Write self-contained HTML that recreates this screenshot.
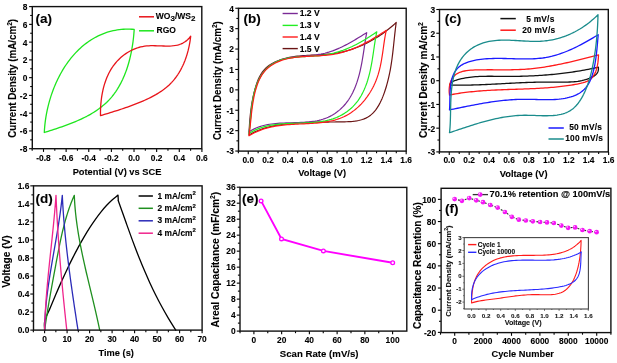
<!DOCTYPE html><html><head><meta charset="utf-8"><style>html,body{margin:0;padding:0;background:#fff;overflow:hidden}svg{display:block;will-change:transform;filter:blur(0.25px)}text{font-family:"Liberation Sans", sans-serif;stroke:currentColor;stroke-width:0.1px}</style></head><body>
<svg width="617" height="363" viewBox="0 0 617 363">
<rect width="617" height="363" fill="#fff"/>
<line x1="43.5" y1="148.7" x2="43.5" y2="151.9" stroke="#000" stroke-width="1.1"/>
<line x1="66.13" y1="148.7" x2="66.13" y2="151.9" stroke="#000" stroke-width="1.1"/>
<line x1="88.76" y1="148.7" x2="88.76" y2="151.9" stroke="#000" stroke-width="1.1"/>
<line x1="111.39" y1="148.7" x2="111.39" y2="151.9" stroke="#000" stroke-width="1.1"/>
<line x1="134.02" y1="148.7" x2="134.02" y2="151.9" stroke="#000" stroke-width="1.1"/>
<line x1="156.65" y1="148.7" x2="156.65" y2="151.9" stroke="#000" stroke-width="1.1"/>
<line x1="179.28" y1="148.7" x2="179.28" y2="151.9" stroke="#000" stroke-width="1.1"/>
<line x1="201.91" y1="148.7" x2="201.91" y2="151.9" stroke="#000" stroke-width="1.1"/>
<line x1="54.81" y1="148.7" x2="54.81" y2="150.8" stroke="#000" stroke-width="1.1"/>
<line x1="77.44" y1="148.7" x2="77.44" y2="150.8" stroke="#000" stroke-width="1.1"/>
<line x1="100.07" y1="148.7" x2="100.07" y2="150.8" stroke="#000" stroke-width="1.1"/>
<line x1="122.7" y1="148.7" x2="122.7" y2="150.8" stroke="#000" stroke-width="1.1"/>
<line x1="145.33" y1="148.7" x2="145.33" y2="150.8" stroke="#000" stroke-width="1.1"/>
<line x1="167.96" y1="148.7" x2="167.96" y2="150.8" stroke="#000" stroke-width="1.1"/>
<line x1="190.6" y1="148.7" x2="190.6" y2="150.8" stroke="#000" stroke-width="1.1"/>
<line x1="32.19" y1="148.7" x2="32.19" y2="150.8" stroke="#000" stroke-width="1.1"/>
<text x="43.5" y="160.6" font-size="8.4" text-anchor="middle" font-weight="bold" fill="#000" >-0.8</text>
<text x="66.13" y="160.6" font-size="8.4" text-anchor="middle" font-weight="bold" fill="#000" >-0.6</text>
<text x="88.76" y="160.6" font-size="8.4" text-anchor="middle" font-weight="bold" fill="#000" >-0.4</text>
<text x="111.39" y="160.6" font-size="8.4" text-anchor="middle" font-weight="bold" fill="#000" >-0.2</text>
<text x="134.02" y="160.6" font-size="8.4" text-anchor="middle" font-weight="bold" fill="#000" >0.0</text>
<text x="156.65" y="160.6" font-size="8.4" text-anchor="middle" font-weight="bold" fill="#000" >0.2</text>
<text x="179.28" y="160.6" font-size="8.4" text-anchor="middle" font-weight="bold" fill="#000" >0.4</text>
<text x="201.91" y="160.6" font-size="8.4" text-anchor="middle" font-weight="bold" fill="#000" >0.6</text>
<line x1="29.1" y1="6.6" x2="32.3" y2="6.6" stroke="#000" stroke-width="1.1"/>
<line x1="29.1" y1="24.36" x2="32.3" y2="24.36" stroke="#000" stroke-width="1.1"/>
<line x1="29.1" y1="42.13" x2="32.3" y2="42.13" stroke="#000" stroke-width="1.1"/>
<line x1="29.1" y1="59.89" x2="32.3" y2="59.89" stroke="#000" stroke-width="1.1"/>
<line x1="29.1" y1="77.65" x2="32.3" y2="77.65" stroke="#000" stroke-width="1.1"/>
<line x1="29.1" y1="95.41" x2="32.3" y2="95.41" stroke="#000" stroke-width="1.1"/>
<line x1="29.1" y1="113.17" x2="32.3" y2="113.17" stroke="#000" stroke-width="1.1"/>
<line x1="29.1" y1="130.94" x2="32.3" y2="130.94" stroke="#000" stroke-width="1.1"/>
<line x1="29.1" y1="148.7" x2="32.3" y2="148.7" stroke="#000" stroke-width="1.1"/>
<line x1="30.2" y1="15.48" x2="32.3" y2="15.48" stroke="#000" stroke-width="1.1"/>
<line x1="30.2" y1="33.25" x2="32.3" y2="33.25" stroke="#000" stroke-width="1.1"/>
<line x1="30.2" y1="51.01" x2="32.3" y2="51.01" stroke="#000" stroke-width="1.1"/>
<line x1="30.2" y1="68.77" x2="32.3" y2="68.77" stroke="#000" stroke-width="1.1"/>
<line x1="30.2" y1="86.53" x2="32.3" y2="86.53" stroke="#000" stroke-width="1.1"/>
<line x1="30.2" y1="104.29" x2="32.3" y2="104.29" stroke="#000" stroke-width="1.1"/>
<line x1="30.2" y1="122.06" x2="32.3" y2="122.06" stroke="#000" stroke-width="1.1"/>
<line x1="30.2" y1="139.82" x2="32.3" y2="139.82" stroke="#000" stroke-width="1.1"/>
<text x="27.3" y="10" font-size="8.4" text-anchor="end" font-weight="bold" fill="#000" >8</text>
<text x="27.3" y="27.76" font-size="8.4" text-anchor="end" font-weight="bold" fill="#000" >6</text>
<text x="27.3" y="45.53" font-size="8.4" text-anchor="end" font-weight="bold" fill="#000" >4</text>
<text x="27.3" y="63.29" font-size="8.4" text-anchor="end" font-weight="bold" fill="#000" >2</text>
<text x="27.3" y="81.05" font-size="8.4" text-anchor="end" font-weight="bold" fill="#000" >0</text>
<text x="27.3" y="98.81" font-size="8.4" text-anchor="end" font-weight="bold" fill="#000" >-2</text>
<text x="27.3" y="116.57" font-size="8.4" text-anchor="end" font-weight="bold" fill="#000" >-4</text>
<text x="27.3" y="134.34" font-size="8.4" text-anchor="end" font-weight="bold" fill="#000" >-6</text>
<text x="27.3" y="152.1" font-size="8.4" text-anchor="end" font-weight="bold" fill="#000" >-8</text>
<path d="M134.2,29.4 L134.06,31.4 133.9,33.42 133.72,35.45 133.51,37.48 133.28,39.52 133.03,41.57 132.75,43.61 132.44,45.67 132.1,47.72 131.74,49.77 131.35,51.82 130.93,53.87 130.49,55.91 130.01,57.94 129.5,59.97 128.96,61.99 128.39,63.99 127.79,65.99 127.15,67.97 126.48,69.93 125.78,71.88 125.04,73.81 124.27,75.72 123.46,77.61 122.62,79.48 121.73,81.32 120.81,83.14 119.85,84.93 118.86,86.69 117.82,88.42 116.74,90.12 115.62,91.79 114.47,93.42 113.26,95.02 112.02,96.58 110.73,98.1 109.4,99.58 108.03,101.02 106.61,102.42 105.15,103.78 103.64,105.1 102.1,106.37 100.52,107.61 98.91,108.82 97.26,109.98 95.58,111.12 93.87,112.21 92.13,113.28 90.37,114.32 88.57,115.32 86.76,116.3 84.92,117.24 83.06,118.16 81.19,119.06 79.3,119.93 77.39,120.77 75.47,121.59 73.53,122.39 71.59,123.17 69.64,123.93 67.68,124.67 65.72,125.39 63.75,126.1 61.79,126.79 59.82,127.47 57.85,128.13 55.89,128.79 53.94,129.43 51.99,130.06 50.05,130.68 48.12,131.29 46.2,131.9 44.3,132.5 L44.3,132.5 L44.41,130.55 44.54,128.58 44.71,126.61 44.9,124.63 45.13,122.64 45.38,120.65 45.67,118.65 45.98,116.65 46.33,114.64 46.71,112.63 47.11,110.63 47.55,108.62 48.02,106.61 48.52,104.61 49.04,102.61 49.6,100.61 50.19,98.62 50.81,96.64 51.46,94.67 52.14,92.7 52.85,90.74 53.58,88.8 54.35,86.87 55.15,84.95 55.98,83.04 56.84,81.15 57.73,79.28 58.65,77.42 59.6,75.58 60.58,73.76 61.59,71.96 62.63,70.19 63.7,68.43 64.79,66.7 65.92,65 67.08,63.32 68.27,61.67 69.49,60.04 70.74,58.45 72.02,56.88 73.33,55.35 74.66,53.85 76.03,52.38 77.43,50.94 78.86,49.55 80.31,48.18 81.8,46.86 83.31,45.57 84.85,44.33 86.42,43.12 88.02,41.96 89.64,40.84 91.3,39.76 92.98,38.73 94.68,37.75 96.42,36.81 98.18,35.92 99.97,35.08 101.78,34.29 103.62,33.55 105.49,32.87 107.38,32.24 109.3,31.66 111.24,31.14 113.2,30.67 115.2,30.27 117.21,29.92 119.25,29.63 121.32,29.41 123.41,29.25 125.52,29.15 127.66,29.11 129.81,29.14 132,29.24 134.2,29.4" fill="none" stroke="#1ee61e" stroke-width="1.3" stroke-linejoin="round" stroke-linecap="round"/>
<path d="M100.5,115.7 L100.48,113.73 100.49,111.75 100.53,109.74 100.61,107.71 100.73,105.67 100.88,103.63 101.08,101.57 101.31,99.51 101.59,97.44 101.91,95.38 102.27,93.32 102.68,91.27 103.14,89.22 103.65,87.19 104.21,85.18 104.82,83.18 105.49,81.2 106.21,79.25 106.98,77.32 107.81,75.43 108.7,73.56 109.66,71.73 110.67,69.94 111.75,68.2 112.89,66.49 114.1,64.84 115.37,63.23 116.7,61.67 118.09,60.17 119.54,58.73 121.04,57.35 122.6,56.04 124.21,54.79 125.86,53.61 127.57,52.5 129.31,51.46 131.1,50.5 132.94,49.63 134.8,48.83 136.71,48.12 138.65,47.5 140.62,46.97 142.62,46.53 144.65,46.19 146.7,45.95 148.77,45.8 150.86,45.72 152.97,45.7 155.08,45.73 157.19,45.79 159.31,45.86 161.42,45.95 163.51,46.02 165.6,46.06 167.66,46.07 169.7,46.03 171.72,45.91 173.69,45.72 175.64,45.43 177.54,45.03 179.39,44.51 181.2,43.85 182.94,43.04 184.63,42.06 186.26,40.9 187.81,39.55 189.3,37.99 190.7,36.2 L190.7,36.2 L190.45,38.24 190.17,40.28 189.84,42.32 189.48,44.35 189.08,46.37 188.63,48.38 188.15,50.38 187.62,52.37 187.06,54.34 186.45,56.29 185.79,58.23 185.1,60.15 184.35,62.04 183.57,63.91 182.73,65.75 181.85,67.56 180.93,69.35 179.95,71.1 178.93,72.82 177.85,74.51 176.73,76.15 175.56,77.76 174.33,79.33 173.05,80.86 171.73,82.34 170.34,83.77 168.91,85.16 167.42,86.5 165.88,87.79 164.3,89.04 162.67,90.25 161.01,91.41 159.3,92.53 157.56,93.62 155.8,94.67 154,95.68 152.18,96.66 150.33,97.61 148.47,98.52 146.6,99.41 144.71,100.27 142.81,101.11 140.9,101.92 138.99,102.7 137.08,103.47 135.17,104.22 133.25,104.95 131.34,105.66 129.42,106.35 127.5,107.03 125.58,107.7 123.66,108.35 121.74,109 119.82,109.63 117.89,110.26 115.97,110.87 114.04,111.48 112.11,112.09 110.18,112.69 108.24,113.29 106.31,113.89 104.38,114.49 102.44,115.1 100.5,115.7" fill="none" stroke="#e8141a" stroke-width="1.3" stroke-linejoin="round" stroke-linecap="round"/>
<rect x="32.3" y="6.6" width="169.5" height="142.1" fill="none" stroke="#111" stroke-width="1.4"/>
<text x="35.5" y="22.9" font-size="13.5" text-anchor="start" font-weight="bold" fill="#000" >(a)</text>
<line x1="139" y1="16.8" x2="154" y2="16.8" stroke="#e8141a" stroke-width="1.5"/>
<line x1="139" y1="30.8" x2="154" y2="30.8" stroke="#1ee61e" stroke-width="1.5"/>
<text x="155.8" y="18.7" font-size="8.5" text-anchor="start" font-weight="bold" fill="#000" >WO<tspan font-size="8" dy="2.7">3</tspan><tspan dy="-2.7">/WS</tspan><tspan font-size="8" dy="2.7">2</tspan></text>
<text x="156.5" y="33" font-size="8.5" text-anchor="start" font-weight="bold" fill="#000" >RGO</text>
<text x="0" y="0" font-size="9.3" text-anchor="middle" font-weight="bold" fill="#000" transform="translate(117 175.3) scale(1 1.02)" >Potential (V) vs SCE</text>
<text x="0" y="0" font-size="9.8" text-anchor="middle" font-weight="bold" fill="#000" transform="translate(16.3 78.4) rotate(-90) scale(1 1.15)" >Current Density (mA/cm<tspan font-size="6.5" dy="-3.5">2</tspan><tspan dy="3.5">)</tspan></text>
<line x1="248.25" y1="151.1" x2="248.25" y2="154.3" stroke="#000" stroke-width="1.1"/>
<line x1="267.99" y1="151.1" x2="267.99" y2="154.3" stroke="#000" stroke-width="1.1"/>
<line x1="287.73" y1="151.1" x2="287.73" y2="154.3" stroke="#000" stroke-width="1.1"/>
<line x1="307.47" y1="151.1" x2="307.47" y2="154.3" stroke="#000" stroke-width="1.1"/>
<line x1="327.21" y1="151.1" x2="327.21" y2="154.3" stroke="#000" stroke-width="1.1"/>
<line x1="346.95" y1="151.1" x2="346.95" y2="154.3" stroke="#000" stroke-width="1.1"/>
<line x1="366.69" y1="151.1" x2="366.69" y2="154.3" stroke="#000" stroke-width="1.1"/>
<line x1="386.43" y1="151.1" x2="386.43" y2="154.3" stroke="#000" stroke-width="1.1"/>
<line x1="406.17" y1="151.1" x2="406.17" y2="154.3" stroke="#000" stroke-width="1.1"/>
<line x1="258.12" y1="151.1" x2="258.12" y2="153.2" stroke="#000" stroke-width="1.1"/>
<line x1="277.86" y1="151.1" x2="277.86" y2="153.2" stroke="#000" stroke-width="1.1"/>
<line x1="297.6" y1="151.1" x2="297.6" y2="153.2" stroke="#000" stroke-width="1.1"/>
<line x1="317.34" y1="151.1" x2="317.34" y2="153.2" stroke="#000" stroke-width="1.1"/>
<line x1="337.08" y1="151.1" x2="337.08" y2="153.2" stroke="#000" stroke-width="1.1"/>
<line x1="356.82" y1="151.1" x2="356.82" y2="153.2" stroke="#000" stroke-width="1.1"/>
<line x1="376.56" y1="151.1" x2="376.56" y2="153.2" stroke="#000" stroke-width="1.1"/>
<line x1="396.3" y1="151.1" x2="396.3" y2="153.2" stroke="#000" stroke-width="1.1"/>
<line x1="238.38" y1="151.1" x2="238.38" y2="153.2" stroke="#000" stroke-width="1.1"/>
<text x="248.25" y="162.5" font-size="8.4" text-anchor="middle" font-weight="bold" fill="#000" >0.0</text>
<text x="267.99" y="162.5" font-size="8.4" text-anchor="middle" font-weight="bold" fill="#000" >0.2</text>
<text x="287.73" y="162.5" font-size="8.4" text-anchor="middle" font-weight="bold" fill="#000" >0.4</text>
<text x="307.47" y="162.5" font-size="8.4" text-anchor="middle" font-weight="bold" fill="#000" >0.6</text>
<text x="327.21" y="162.5" font-size="8.4" text-anchor="middle" font-weight="bold" fill="#000" >0.8</text>
<text x="346.95" y="162.5" font-size="8.4" text-anchor="middle" font-weight="bold" fill="#000" >1.0</text>
<text x="366.69" y="162.5" font-size="8.4" text-anchor="middle" font-weight="bold" fill="#000" >1.2</text>
<text x="386.43" y="162.5" font-size="8.4" text-anchor="middle" font-weight="bold" fill="#000" >1.4</text>
<text x="406.17" y="162.5" font-size="8.4" text-anchor="middle" font-weight="bold" fill="#000" >1.6</text>
<line x1="235.3" y1="8.25" x2="238.5" y2="8.25" stroke="#000" stroke-width="1.1"/>
<line x1="235.3" y1="28.65" x2="238.5" y2="28.65" stroke="#000" stroke-width="1.1"/>
<line x1="235.3" y1="49.05" x2="238.5" y2="49.05" stroke="#000" stroke-width="1.1"/>
<line x1="235.3" y1="69.45" x2="238.5" y2="69.45" stroke="#000" stroke-width="1.1"/>
<line x1="235.3" y1="89.85" x2="238.5" y2="89.85" stroke="#000" stroke-width="1.1"/>
<line x1="235.3" y1="110.25" x2="238.5" y2="110.25" stroke="#000" stroke-width="1.1"/>
<line x1="235.3" y1="130.65" x2="238.5" y2="130.65" stroke="#000" stroke-width="1.1"/>
<line x1="235.3" y1="151.05" x2="238.5" y2="151.05" stroke="#000" stroke-width="1.1"/>
<line x1="236.4" y1="18.45" x2="238.5" y2="18.45" stroke="#000" stroke-width="1.1"/>
<line x1="236.4" y1="38.85" x2="238.5" y2="38.85" stroke="#000" stroke-width="1.1"/>
<line x1="236.4" y1="59.25" x2="238.5" y2="59.25" stroke="#000" stroke-width="1.1"/>
<line x1="236.4" y1="79.65" x2="238.5" y2="79.65" stroke="#000" stroke-width="1.1"/>
<line x1="236.4" y1="100.05" x2="238.5" y2="100.05" stroke="#000" stroke-width="1.1"/>
<line x1="236.4" y1="120.45" x2="238.5" y2="120.45" stroke="#000" stroke-width="1.1"/>
<line x1="236.4" y1="140.85" x2="238.5" y2="140.85" stroke="#000" stroke-width="1.1"/>
<text x="233.9" y="11.65" font-size="8.4" text-anchor="end" font-weight="bold" fill="#000" >4</text>
<text x="233.9" y="32.05" font-size="8.4" text-anchor="end" font-weight="bold" fill="#000" >3</text>
<text x="233.9" y="52.45" font-size="8.4" text-anchor="end" font-weight="bold" fill="#000" >2</text>
<text x="233.9" y="72.85" font-size="8.4" text-anchor="end" font-weight="bold" fill="#000" >1</text>
<text x="233.9" y="93.25" font-size="8.4" text-anchor="end" font-weight="bold" fill="#000" >0</text>
<text x="233.9" y="113.65" font-size="8.4" text-anchor="end" font-weight="bold" fill="#000" >-1</text>
<text x="233.9" y="134.05" font-size="8.4" text-anchor="end" font-weight="bold" fill="#000" >-2</text>
<text x="233.9" y="154.45" font-size="8.4" text-anchor="end" font-weight="bold" fill="#000" >-3</text>
<path d="M396.2,22.5 L395.92,24.61 395.66,26.7 395.4,28.78 395.16,30.85 394.93,32.9 394.7,34.94 394.48,36.96 394.27,38.98 394.05,40.99 393.84,42.99 393.63,44.98 393.42,46.96 393.2,48.94 392.98,50.91 392.75,52.88 392.51,54.84 392.27,56.8 392.01,58.76 391.74,60.72 391.45,62.68 391.15,64.64 390.83,66.6 390.49,68.56 390.13,70.52 389.75,72.49 389.35,74.47 388.92,76.45 388.46,78.44 387.97,80.43 387.46,82.43 386.91,84.44 386.33,86.47 385.71,88.5 385.06,90.54 384.36,92.58 383.63,94.62 382.85,96.64 382.03,98.63 381.15,100.59 380.23,102.5 379.24,104.36 378.21,106.16 377.11,107.89 375.95,109.53 374.72,111.09 373.43,112.56 372.07,113.91 370.63,115.15 369.12,116.26 367.54,117.25 365.88,118.11 364.15,118.85 362.37,119.48 360.53,120.02 358.64,120.47 356.71,120.83 354.74,121.12 352.74,121.35 350.71,121.53 348.66,121.66 346.6,121.75 344.53,121.82 342.45,121.87 340.38,121.9 338.31,121.93 336.25,121.96 334.2,121.98 332.14,122 330.1,122.01 328.05,122.03 326.01,122.05 323.97,122.06 321.94,122.08 319.91,122.11 317.88,122.14 315.86,122.17 313.84,122.21 311.82,122.26 309.8,122.31 307.79,122.38 305.77,122.45 303.76,122.54 301.75,122.64 299.74,122.75 297.73,122.87 295.72,123.02 293.71,123.17 291.7,123.35 289.69,123.54 287.68,123.75 285.67,123.99 283.66,124.24 281.64,124.52 279.63,124.82 277.62,125.14 275.61,125.5 273.61,125.88 271.61,126.31 269.63,126.77 267.66,127.26 265.7,127.8 263.75,128.39 261.83,129.02 259.92,129.71 258.03,130.44 256.17,131.23 254.34,132.08 252.53,132.99 250.75,133.96 249,135 L249,135 L249.07,133 249.16,131.01 249.25,129.01 249.36,127.01 249.48,125.01 249.61,123 249.76,121 249.93,118.99 250.11,116.99 250.31,114.98 250.53,112.97 250.77,110.96 251.03,108.96 251.32,106.95 251.62,104.94 251.96,102.93 252.31,100.92 252.7,98.91 253.11,96.9 253.56,94.9 254.03,92.89 254.53,90.88 255.07,88.88 255.64,86.87 256.25,84.89 256.92,82.92 257.64,80.98 258.42,79.09 259.27,77.25 260.2,75.46 261.21,73.75 262.32,72.12 263.52,70.57 264.83,69.12 266.23,67.76 267.72,66.5 269.29,65.33 270.93,64.24 272.63,63.24 274.38,62.32 276.18,61.47 278,60.7 279.85,59.99 281.72,59.36 283.61,58.79 285.52,58.27 287.45,57.81 289.39,57.4 291.34,57.04 293.31,56.73 295.29,56.45 297.29,56.21 299.29,55.99 301.31,55.81 303.33,55.65 305.36,55.51 307.39,55.39 309.44,55.28 311.48,55.18 313.53,55.08 315.58,54.98 317.63,54.88 319.69,54.77 321.74,54.65 323.78,54.52 325.83,54.36 327.87,54.19 329.91,53.98 331.94,53.75 333.96,53.48 335.97,53.17 337.98,52.83 339.97,52.44 341.96,52.01 343.93,51.55 345.89,51.05 347.85,50.51 349.79,49.93 351.71,49.32 353.63,48.67 355.53,47.98 357.42,47.26 359.29,46.51 361.15,45.73 363,44.91 364.83,44.06 366.65,43.17 368.45,42.26 370.23,41.31 372,40.34 373.74,39.33 375.48,38.3 377.19,37.24 378.89,36.15 380.56,35.03 382.22,33.89 383.86,32.72 385.47,31.53 387.07,30.31 388.65,29.06 390.2,27.8 391.74,26.51 393.25,25.19 394.73,23.86 396.2,22.5" fill="none" stroke="#6a1414" stroke-width="1.2" stroke-linejoin="round" stroke-linecap="round"/>
<path d="M366.7,32.7 L366.35,34.59 366.01,36.49 365.69,38.42 365.37,40.36 365.06,42.33 364.76,44.3 364.46,46.3 364.16,48.3 363.85,50.31 363.54,52.34 363.23,54.37 362.9,56.41 362.57,58.46 362.21,60.51 361.85,62.56 361.46,64.61 361.05,66.66 360.62,68.71 360.16,70.76 359.67,72.8 359.16,74.84 358.6,76.87 358.02,78.88 357.4,80.89 356.74,82.88 356.03,84.84 355.29,86.79 354.51,88.71 353.67,90.6 352.8,92.45 351.87,94.27 350.89,96.06 349.86,97.79 348.78,99.49 347.64,101.13 346.44,102.73 345.19,104.27 343.88,105.75 342.52,107.18 341.11,108.55 339.65,109.86 338.14,111.1 336.58,112.29 334.99,113.41 333.35,114.46 331.67,115.44 329.95,116.35 328.19,117.2 326.4,117.96 324.58,118.66 322.72,119.28 320.84,119.83 318.92,120.31 316.99,120.73 315.02,121.1 313.04,121.41 311.03,121.68 309.01,121.91 306.97,122.09 304.92,122.25 302.85,122.37 300.78,122.47 298.69,122.56 296.59,122.62 294.5,122.68 292.39,122.73 290.29,122.79 288.18,122.84 286.08,122.91 283.98,122.98 281.89,123.08 279.81,123.19 277.73,123.34 275.67,123.51 273.62,123.73 271.58,123.98 269.56,124.28 267.56,124.63 265.58,125.03 263.63,125.5 261.69,126.02 259.79,126.62 257.91,127.29 256.06,128.04 254.24,128.87 252.46,129.78 250.71,130.79 249,131.9 L249,131.9 L249.27,130 249.51,128.06 249.74,126.1 249.95,124.12 250.16,122.12 250.35,120.09 250.55,118.05 250.74,116 250.94,113.93 251.15,111.85 251.37,109.77 251.61,107.68 251.86,105.59 252.15,103.5 252.46,101.41 252.8,99.33 253.18,97.26 253.6,95.19 254.06,93.14 254.57,91.1 255.13,89.08 255.75,87.08 256.42,85.11 257.16,83.17 257.96,81.27 258.82,79.41 259.75,77.61 260.75,75.86 261.82,74.17 262.97,72.55 264.19,71.01 265.49,69.55 266.87,68.17 268.32,66.87 269.84,65.66 271.42,64.53 273.06,63.48 274.75,62.52 276.49,61.65 278.29,60.85 280.12,60.15 281.99,59.52 283.9,58.97 285.84,58.49 287.81,58.07 289.81,57.7 291.83,57.38 293.87,57.1 295.93,56.85 298.01,56.63 300.09,56.43 302.18,56.24 304.28,56.07 306.38,55.89 308.48,55.71 310.58,55.51 312.67,55.29 314.75,55.05 316.81,54.78 318.86,54.46 320.89,54.1 322.9,53.69 324.89,53.22 326.85,52.7 328.79,52.13 330.71,51.51 332.61,50.85 334.5,50.14 336.36,49.39 338.22,48.6 340.06,47.78 341.88,46.92 343.69,46.03 345.49,45.11 347.29,44.16 349.07,43.19 350.85,42.2 352.62,41.19 354.38,40.16 356.15,39.12 357.9,38.07 359.66,37 361.42,35.93 363.18,34.86 364.94,33.78 366.7,32.7" fill="none" stroke="#7a2a96" stroke-width="1.2" stroke-linejoin="round" stroke-linecap="round"/>
<path d="M376.8,31.8 L376.41,33.69 376.05,35.61 375.7,37.54 375.37,39.49 375.05,41.47 374.74,43.45 374.43,45.45 374.13,47.47 373.83,49.5 373.53,51.53 373.23,53.58 372.92,55.63 372.6,57.68 372.27,59.74 371.93,61.81 371.56,63.87 371.18,65.93 370.77,67.99 370.34,70.05 369.87,72.1 369.38,74.15 368.85,76.19 368.29,78.21 367.69,80.23 367.05,82.22 366.36,84.2 365.64,86.15 364.86,88.08 364.04,89.97 363.17,91.83 362.25,93.66 361.28,95.45 360.25,97.19 359.17,98.89 358.03,100.54 356.83,102.13 355.56,103.67 354.24,105.16 352.87,106.59 351.44,107.96 349.96,109.26 348.44,110.51 346.86,111.7 345.25,112.82 343.59,113.88 341.9,114.88 340.17,115.8 338.4,116.66 336.61,117.45 334.78,118.17 332.93,118.83 331.05,119.42 329.15,119.95 327.22,120.42 325.27,120.84 323.3,121.21 321.31,121.54 319.31,121.82 317.29,122.07 315.25,122.28 313.2,122.46 311.14,122.61 309.07,122.74 306.99,122.85 304.9,122.95 302.81,123.03 300.71,123.1 298.6,123.16 296.5,123.23 294.39,123.29 292.29,123.36 290.18,123.44 288.08,123.53 285.99,123.64 283.9,123.76 281.82,123.91 279.75,124.09 277.69,124.29 275.64,124.53 273.6,124.81 271.58,125.13 269.58,125.5 267.59,125.91 265.62,126.37 263.68,126.9 261.75,127.48 259.85,128.12 257.97,128.83 256.12,129.61 254.3,130.46 252.5,131.39 250.73,132.4 249,133.5 L249,133.5 L249.26,131.61 249.49,129.69 249.71,127.74 249.91,125.77 250.1,123.78 250.29,121.76 250.47,119.73 250.65,117.67 250.84,115.61 251.03,113.54 251.24,111.45 251.46,109.37 251.7,107.28 251.96,105.18 252.25,103.09 252.58,101.01 252.93,98.93 253.33,96.86 253.76,94.8 254.24,92.76 254.77,90.73 255.35,88.72 255.99,86.74 256.69,84.78 257.45,82.86 258.27,80.98 259.15,79.14 260.1,77.36 261.12,75.63 262.2,73.97 263.36,72.37 264.6,70.85 265.91,69.4 267.29,68.04 268.74,66.76 270.25,65.56 271.83,64.44 273.46,63.41 275.14,62.47 276.88,61.61 278.66,60.83 280.48,60.15 282.34,59.54 284.24,59.01 286.17,58.55 288.13,58.16 290.12,57.82 292.14,57.53 294.18,57.29 296.23,57.09 298.31,56.92 300.39,56.77 302.49,56.65 304.59,56.54 306.71,56.44 308.82,56.34 310.93,56.23 313.04,56.12 315.14,55.98 317.23,55.83 319.32,55.64 321.38,55.42 323.43,55.16 325.46,54.85 327.47,54.5 329.47,54.11 331.45,53.68 333.41,53.21 335.36,52.7 337.29,52.15 339.2,51.56 341.1,50.93 342.99,50.27 344.86,49.57 346.72,48.84 348.57,48.07 350.4,47.27 352.23,46.44 354.04,45.57 355.84,44.68 357.63,43.75 359.41,42.8 361.19,41.81 362.95,40.8 364.71,39.76 366.45,38.7 368.19,37.61 369.93,36.49 371.65,35.35 373.37,34.19 375.09,33.01 376.8,31.8" fill="none" stroke="#22ee22" stroke-width="1.2" stroke-linejoin="round" stroke-linecap="round"/>
<path d="M386.3,30.3 L385.9,32.18 385.52,34.08 385.17,36.01 384.84,37.96 384.52,39.93 384.22,41.92 383.92,43.92 383.63,45.94 383.35,47.97 383.06,50.01 382.77,52.05 382.47,54.1 382.15,56.16 381.82,58.21 381.48,60.26 381.1,62.31 380.7,64.36 380.28,66.4 379.81,68.42 379.31,70.44 378.77,72.44 378.19,74.43 377.55,76.39 376.87,78.34 376.14,80.27 375.36,82.17 374.53,84.05 373.66,85.9 372.73,87.73 371.77,89.52 370.76,91.28 369.7,93.02 368.6,94.71 367.46,96.37 366.28,97.99 365.05,99.58 363.78,101.12 362.47,102.62 361.13,104.08 359.74,105.49 358.31,106.85 356.85,108.16 355.35,109.43 353.81,110.64 352.24,111.8 350.63,112.9 348.98,113.94 347.31,114.93 345.59,115.85 343.85,116.72 342.07,117.52 340.26,118.25 338.43,118.92 336.56,119.54 334.67,120.09 332.75,120.59 330.8,121.04 328.84,121.45 326.85,121.8 324.85,122.12 322.83,122.41 320.79,122.65 318.74,122.87 316.67,123.06 314.6,123.23 312.51,123.37 310.42,123.5 308.33,123.61 306.22,123.72 304.12,123.81 302.01,123.9 299.91,123.99 297.81,124.08 295.71,124.18 293.61,124.29 291.53,124.41 289.45,124.54 287.38,124.69 285.33,124.87 283.29,125.07 281.26,125.3 279.25,125.56 277.26,125.85 275.28,126.18 273.31,126.55 271.36,126.95 269.43,127.4 267.51,127.9 265.6,128.44 263.7,129.03 261.82,129.68 259.96,130.37 258.1,131.12 256.26,131.93 254.43,132.81 252.61,133.74 250.8,134.74 249,135.8 L249,135.8 L249.27,133.83 249.52,131.85 249.76,129.86 249.98,127.87 250.2,125.87 250.41,123.86 250.62,121.84 250.82,119.82 251.03,117.8 251.24,115.78 251.46,113.75 251.7,111.72 251.94,109.68 252.2,107.65 252.49,105.62 252.79,103.59 253.12,101.56 253.48,99.53 253.87,97.51 254.29,95.49 254.75,93.47 255.25,91.46 255.79,89.46 256.38,87.46 257.02,85.48 257.72,83.53 258.48,81.62 259.3,79.74 260.19,77.92 261.16,76.15 262.22,74.46 263.35,72.83 264.58,71.3 265.9,69.85 267.31,68.49 268.8,67.23 270.37,66.04 272,64.95 273.68,63.93 275.42,63 277.2,62.15 279.01,61.37 280.86,60.67 282.73,60.04 284.62,59.48 286.53,58.98 288.47,58.53 290.42,58.15 292.4,57.81 294.38,57.51 296.39,57.25 298.41,57.03 300.44,56.84 302.48,56.68 304.52,56.54 306.58,56.42 308.64,56.31 310.71,56.21 312.78,56.11 314.85,56.01 316.92,55.91 318.99,55.79 321.06,55.67 323.12,55.52 325.18,55.35 327.23,55.16 329.27,54.93 331.31,54.66 333.33,54.36 335.33,54.01 337.33,53.61 339.3,53.16 341.27,52.67 343.22,52.13 345.15,51.55 347.08,50.93 348.99,50.27 350.88,49.58 352.77,48.84 354.64,48.08 356.5,47.28 358.34,46.45 360.17,45.59 361.99,44.7 363.8,43.78 365.6,42.85 367.38,41.89 369.16,40.9 370.92,39.9 372.67,38.88 374.41,37.85 376.14,36.8 377.86,35.74 379.57,34.67 381.27,33.59 382.95,32.5 384.63,31.4 386.3,30.3" fill="none" stroke="#ff1a1a" stroke-width="1.2" stroke-linejoin="round" stroke-linecap="round"/>
<rect x="238.5" y="8.3" width="167.7" height="142.8" fill="none" stroke="#111" stroke-width="1.4"/>
<text x="243.4" y="22.85" font-size="13.5" text-anchor="start" font-weight="bold" fill="#000" >(b)</text>
<line x1="282.6" y1="13.5" x2="297.8" y2="13.5" stroke="#7a2a96" stroke-width="1.4"/>
<text x="299.7" y="16.4" font-size="8.6" text-anchor="start" font-weight="bold" fill="#000" >1.2 V</text>
<line x1="282.6" y1="25.400000000000002" x2="297.8" y2="25.400000000000002" stroke="#22ee22" stroke-width="1.4"/>
<text x="299.7" y="28.3" font-size="8.6" text-anchor="start" font-weight="bold" fill="#000" >1.3 V</text>
<line x1="282.6" y1="37.0" x2="297.8" y2="37.0" stroke="#ff1a1a" stroke-width="1.4"/>
<text x="299.7" y="39.9" font-size="8.6" text-anchor="start" font-weight="bold" fill="#000" >1.4 V</text>
<line x1="282.6" y1="48.599999999999994" x2="297.8" y2="48.599999999999994" stroke="#6a1414" stroke-width="1.4"/>
<text x="299.7" y="51.5" font-size="8.6" text-anchor="start" font-weight="bold" fill="#000" >1.5 V</text>
<text x="0" y="0" font-size="9.3" text-anchor="middle" font-weight="bold" fill="#000" transform="translate(322.2 176.3) scale(1 1.02)" >Voltage (V)</text>
<text x="0" y="0" font-size="9.8" text-anchor="middle" font-weight="bold" fill="#000" transform="translate(220.6 80.6) rotate(-90) scale(1 1.15)" >Current Density (mA/cm<tspan font-size="6.5" dy="-3.5">2</tspan><tspan dy="3.5">)</tspan></text>
<line x1="449.25" y1="151.9" x2="449.25" y2="155.1" stroke="#000" stroke-width="1.1"/>
<line x1="469.17" y1="151.9" x2="469.17" y2="155.1" stroke="#000" stroke-width="1.1"/>
<line x1="489.09" y1="151.9" x2="489.09" y2="155.1" stroke="#000" stroke-width="1.1"/>
<line x1="509.01" y1="151.9" x2="509.01" y2="155.1" stroke="#000" stroke-width="1.1"/>
<line x1="528.93" y1="151.9" x2="528.93" y2="155.1" stroke="#000" stroke-width="1.1"/>
<line x1="548.85" y1="151.9" x2="548.85" y2="155.1" stroke="#000" stroke-width="1.1"/>
<line x1="568.77" y1="151.9" x2="568.77" y2="155.1" stroke="#000" stroke-width="1.1"/>
<line x1="588.69" y1="151.9" x2="588.69" y2="155.1" stroke="#000" stroke-width="1.1"/>
<line x1="608.61" y1="151.9" x2="608.61" y2="155.1" stroke="#000" stroke-width="1.1"/>
<line x1="459.21" y1="151.9" x2="459.21" y2="154" stroke="#000" stroke-width="1.1"/>
<line x1="479.13" y1="151.9" x2="479.13" y2="154" stroke="#000" stroke-width="1.1"/>
<line x1="499.05" y1="151.9" x2="499.05" y2="154" stroke="#000" stroke-width="1.1"/>
<line x1="518.97" y1="151.9" x2="518.97" y2="154" stroke="#000" stroke-width="1.1"/>
<line x1="538.89" y1="151.9" x2="538.89" y2="154" stroke="#000" stroke-width="1.1"/>
<line x1="558.81" y1="151.9" x2="558.81" y2="154" stroke="#000" stroke-width="1.1"/>
<line x1="578.73" y1="151.9" x2="578.73" y2="154" stroke="#000" stroke-width="1.1"/>
<line x1="598.65" y1="151.9" x2="598.65" y2="154" stroke="#000" stroke-width="1.1"/>
<line x1="439.29" y1="151.9" x2="439.29" y2="154" stroke="#000" stroke-width="1.1"/>
<text x="449.25" y="163.3" font-size="8.4" text-anchor="middle" font-weight="bold" fill="#000" >0.0</text>
<text x="469.17" y="163.3" font-size="8.4" text-anchor="middle" font-weight="bold" fill="#000" >0.2</text>
<text x="489.09" y="163.3" font-size="8.4" text-anchor="middle" font-weight="bold" fill="#000" >0.4</text>
<text x="509.01" y="163.3" font-size="8.4" text-anchor="middle" font-weight="bold" fill="#000" >0.6</text>
<text x="528.93" y="163.3" font-size="8.4" text-anchor="middle" font-weight="bold" fill="#000" >0.8</text>
<text x="548.85" y="163.3" font-size="8.4" text-anchor="middle" font-weight="bold" fill="#000" >1.0</text>
<text x="568.77" y="163.3" font-size="8.4" text-anchor="middle" font-weight="bold" fill="#000" >1.2</text>
<text x="588.69" y="163.3" font-size="8.4" text-anchor="middle" font-weight="bold" fill="#000" >1.4</text>
<text x="608.61" y="163.3" font-size="8.4" text-anchor="middle" font-weight="bold" fill="#000" >1.6</text>
<line x1="436.3" y1="9.51" x2="439.5" y2="9.51" stroke="#000" stroke-width="1.1"/>
<line x1="436.3" y1="33.24" x2="439.5" y2="33.24" stroke="#000" stroke-width="1.1"/>
<line x1="436.3" y1="56.97" x2="439.5" y2="56.97" stroke="#000" stroke-width="1.1"/>
<line x1="436.3" y1="80.7" x2="439.5" y2="80.7" stroke="#000" stroke-width="1.1"/>
<line x1="436.3" y1="104.43" x2="439.5" y2="104.43" stroke="#000" stroke-width="1.1"/>
<line x1="436.3" y1="128.16" x2="439.5" y2="128.16" stroke="#000" stroke-width="1.1"/>
<line x1="436.3" y1="151.89" x2="439.5" y2="151.89" stroke="#000" stroke-width="1.1"/>
<line x1="437.4" y1="21.38" x2="439.5" y2="21.38" stroke="#000" stroke-width="1.1"/>
<line x1="437.4" y1="45.11" x2="439.5" y2="45.11" stroke="#000" stroke-width="1.1"/>
<line x1="437.4" y1="68.84" x2="439.5" y2="68.84" stroke="#000" stroke-width="1.1"/>
<line x1="437.4" y1="92.56" x2="439.5" y2="92.56" stroke="#000" stroke-width="1.1"/>
<line x1="437.4" y1="116.3" x2="439.5" y2="116.3" stroke="#000" stroke-width="1.1"/>
<line x1="437.4" y1="140.03" x2="439.5" y2="140.03" stroke="#000" stroke-width="1.1"/>
<text x="435.1" y="12.91" font-size="8.4" text-anchor="end" font-weight="bold" fill="#000" >3</text>
<text x="435.1" y="36.64" font-size="8.4" text-anchor="end" font-weight="bold" fill="#000" >2</text>
<text x="435.1" y="60.37" font-size="8.4" text-anchor="end" font-weight="bold" fill="#000" >1</text>
<text x="435.1" y="84.1" font-size="8.4" text-anchor="end" font-weight="bold" fill="#000" >0</text>
<text x="435.1" y="107.83" font-size="8.4" text-anchor="end" font-weight="bold" fill="#000" >-1</text>
<text x="435.1" y="131.56" font-size="8.4" text-anchor="end" font-weight="bold" fill="#000" >-2</text>
<text x="435.1" y="155.29" font-size="8.4" text-anchor="end" font-weight="bold" fill="#000" >-3</text>
<path d="M449.7,85 L451.77,85.05 453.83,85.09 455.89,85.11 457.95,85.13 459.99,85.14 462.04,85.13 464.08,85.12 466.11,85.1 468.15,85.07 470.17,85.03 472.2,84.98 474.22,84.93 476.24,84.87 478.25,84.8 480.27,84.73 482.28,84.65 484.29,84.57 486.3,84.49 488.3,84.4 490.31,84.3 492.31,84.2 494.31,84.1 496.32,84 498.32,83.9 500.32,83.79 502.32,83.69 504.33,83.58 506.33,83.47 508.33,83.37 510.34,83.26 512.35,83.16 514.36,83.06 516.37,82.96 518.38,82.86 520.39,82.77 522.41,82.68 524.43,82.59 526.45,82.51 528.48,82.43 530.51,82.36 532.54,82.29 534.58,82.23 536.62,82.18 538.67,82.14 540.72,82.1 542.77,82.07 544.83,82.05 546.9,82.03 548.97,82.03 551.05,82.04 553.13,82.05 555.22,82.08 557.31,82.1 559.4,82.13 561.49,82.14 563.58,82.14 565.65,82.12 567.72,82.08 569.77,82 571.81,81.9 573.84,81.75 575.84,81.55 577.82,81.3 579.78,81 581.71,80.63 583.61,80.2 585.48,79.7 587.32,79.11 589.12,78.45 590.88,77.69 592.6,76.85 594.25,75.88 595.76,74.75 597.02,73.38 597.94,71.71 598.44,69.67 598.4,67.2 L598.4,67.2 L596.37,67.65 594.35,68.08 592.33,68.51 590.3,68.92 588.28,69.32 586.26,69.7 584.24,70.07 582.21,70.44 580.19,70.78 578.17,71.12 576.15,71.45 574.13,71.76 572.11,72.06 570.08,72.35 568.06,72.63 566.04,72.9 564.01,73.16 561.99,73.41 559.96,73.64 557.94,73.87 555.91,74.08 553.88,74.29 551.85,74.48 549.82,74.66 547.78,74.84 545.75,75 543.71,75.15 541.68,75.3 539.64,75.43 537.59,75.56 535.55,75.68 533.5,75.78 531.46,75.88 529.41,75.97 527.35,76.05 525.3,76.12 523.24,76.18 521.18,76.24 519.11,76.28 517.05,76.32 514.98,76.35 512.91,76.37 510.83,76.39 508.75,76.4 506.67,76.39 504.58,76.39 502.49,76.37 500.4,76.35 498.31,76.33 496.21,76.3 494.12,76.28 492.02,76.27 489.93,76.26 487.85,76.27 485.77,76.29 483.69,76.33 481.62,76.39 479.56,76.47 477.51,76.58 475.47,76.71 473.44,76.88 471.42,77.08 469.42,77.32 467.43,77.6 465.46,77.92 463.5,78.29 461.56,78.7 459.64,79.17 457.74,79.69 455.87,80.26 454.02,80.91 452.29,81.73 450.81,82.88 449.7,84.5" fill="none" stroke="#111" stroke-width="1.3" stroke-linejoin="round" stroke-linecap="round"/>
<path d="M449.5,95 L451.49,94.61 453.48,94.24 455.47,93.9 457.47,93.57 459.47,93.26 461.48,92.96 463.49,92.68 465.5,92.42 467.51,92.18 469.53,91.95 471.55,91.73 473.57,91.53 475.6,91.34 477.63,91.16 479.66,90.99 481.69,90.84 483.72,90.69 485.76,90.55 487.79,90.43 489.83,90.31 491.87,90.2 493.92,90.1 495.96,90 498,89.91 500.05,89.82 502.09,89.74 504.14,89.67 506.19,89.59 508.23,89.52 510.28,89.45 512.33,89.38 514.38,89.32 516.43,89.25 518.48,89.18 520.52,89.11 522.57,89.04 524.62,88.96 526.67,88.89 528.71,88.81 530.76,88.72 532.8,88.63 534.84,88.53 536.88,88.43 538.92,88.32 540.96,88.2 543,88.08 545.04,87.94 547.07,87.8 549.1,87.64 551.13,87.47 553.16,87.3 555.18,87.11 557.21,86.9 559.23,86.69 561.24,86.46 563.26,86.21 565.27,85.95 567.28,85.67 569.28,85.38 571.28,85.07 573.28,84.74 575.28,84.39 577.27,84.02 579.26,83.63 581.23,83.21 583.17,82.73 585.05,82.14 586.85,81.43 588.54,80.56 590.1,79.49 591.52,78.22 592.8,76.77 593.93,75.15 594.92,73.37 595.76,71.45 596.46,69.41 597.03,67.29 597.49,65.13 597.85,62.95 598.11,60.79 598.3,58.69 598.43,56.68 598.5,54.8 L598.5,54.8 L596.56,55.32 594.61,55.84 592.66,56.36 590.7,56.87 588.73,57.39 586.76,57.9 584.78,58.41 582.8,58.91 580.81,59.41 578.82,59.91 576.83,60.4 574.83,60.88 572.82,61.36 570.82,61.83 568.81,62.29 566.8,62.75 564.78,63.19 562.76,63.63 560.74,64.05 558.72,64.47 556.7,64.87 554.67,65.26 552.64,65.64 550.62,66 548.59,66.36 546.56,66.69 544.53,67.02 542.51,67.32 540.48,67.61 538.45,67.89 536.43,68.14 534.4,68.38 532.38,68.6 530.36,68.8 528.34,68.99 526.32,69.15 524.31,69.29 522.3,69.41 520.29,69.51 518.28,69.59 516.27,69.66 514.26,69.71 512.25,69.75 510.24,69.78 508.22,69.8 506.21,69.81 504.18,69.81 502.16,69.81 500.12,69.8 498.08,69.79 496.04,69.79 493.98,69.78 491.92,69.77 489.85,69.77 487.77,69.77 485.67,69.78 483.57,69.79 481.45,69.82 479.33,69.86 477.18,69.91 475.03,69.97 472.87,70.06 470.72,70.2 468.61,70.39 466.53,70.65 464.51,71 462.56,71.45 460.69,72.01 458.93,72.71 457.28,73.55 455.76,74.56 454.39,75.74 453.17,77.11 452.11,78.64 451.21,80.34 450.48,82.17 449.9,84.11 449.49,86.16 449.25,88.29 449.16,90.49 449.25,92.73 449.5,95" fill="none" stroke="#ff1a1a" stroke-width="1.3" stroke-linejoin="round" stroke-linecap="round"/>
<path d="M449.5,109.9 L451.51,109.48 453.52,109.07 455.53,108.65 457.53,108.24 459.53,107.83 461.53,107.42 463.53,107.01 465.53,106.6 467.52,106.2 469.52,105.81 471.51,105.42 473.51,105.04 475.5,104.66 477.5,104.29 479.49,103.93 481.49,103.57 483.48,103.23 485.48,102.9 487.48,102.57 489.48,102.26 491.48,101.96 493.48,101.67 495.49,101.4 497.49,101.14 499.5,100.89 501.52,100.66 503.53,100.44 505.55,100.24 507.58,100.06 509.6,99.9 511.63,99.75 513.67,99.62 515.7,99.51 517.75,99.43 519.8,99.36 521.85,99.31 523.91,99.29 525.97,99.29 528.04,99.31 530.11,99.34 532.19,99.39 534.27,99.45 536.35,99.51 538.42,99.57 540.5,99.62 542.58,99.67 544.65,99.7 546.71,99.71 548.77,99.7 550.83,99.67 552.88,99.6 554.91,99.5 556.94,99.36 558.96,99.18 560.96,98.95 562.96,98.67 564.93,98.32 566.9,97.92 568.84,97.46 570.77,96.92 572.68,96.31 574.55,95.61 576.37,94.83 578.13,93.94 579.82,92.95 581.42,91.84 582.93,90.62 584.35,89.27 585.66,87.82 586.88,86.26 588,84.62 589.03,82.89 589.96,81.08 590.8,79.21 591.55,77.29 592.23,75.31 592.84,73.3 593.39,71.26 593.88,69.21 594.33,67.14 594.75,65.07 595.12,63.01 595.46,60.94 595.78,58.88 596.06,56.82 596.32,54.77 596.56,52.72 596.78,50.68 596.99,48.64 597.18,46.62 597.36,44.6 597.53,42.6 597.7,40.6 597.86,38.62 598.03,36.65 598.2,34.7 L598.2,34.7 L596.49,35.75 594.76,36.79 593.02,37.83 591.28,38.86 589.51,39.89 587.74,40.91 585.96,41.91 584.16,42.91 582.36,43.88 580.54,44.85 578.72,45.79 576.88,46.72 575.03,47.62 573.17,48.5 571.31,49.35 569.43,50.18 567.54,50.98 565.65,51.75 563.74,52.49 561.83,53.2 559.91,53.87 557.98,54.5 556.04,55.09 554.09,55.64 552.14,56.16 550.18,56.62 548.21,57.04 546.23,57.42 544.25,57.74 542.26,58.02 540.26,58.26 538.26,58.46 536.25,58.62 534.23,58.75 532.21,58.84 530.19,58.91 528.16,58.95 526.12,58.97 524.08,58.96 522.04,58.95 519.99,58.91 517.94,58.87 515.89,58.82 513.83,58.76 511.77,58.7 509.71,58.63 507.64,58.58 505.58,58.52 503.51,58.48 501.44,58.44 499.37,58.42 497.3,58.42 495.22,58.44 493.15,58.48 491.08,58.55 489.01,58.64 486.94,58.77 484.86,58.93 482.79,59.12 480.73,59.36 478.66,59.64 476.6,59.96 474.55,60.34 472.53,60.78 470.55,61.29 468.61,61.87 466.73,62.54 464.92,63.29 463.19,64.13 461.55,65.08 460.01,66.13 458.57,67.31 457.26,68.6 456.07,70.01 455,71.54 454.06,73.18 453.24,74.93 452.54,76.78 451.94,78.71 451.45,80.72 451.04,82.79 450.71,84.91 450.45,87.07 450.25,89.25 450.11,91.45 450,93.65 449.92,95.84 449.87,98.01 449.83,100.14 449.8,102.23 449.76,104.26 449.7,106.23 449.62,108.11 449.5,109.9" fill="none" stroke="#1a1aff" stroke-width="1.3" stroke-linejoin="round" stroke-linecap="round"/>
<path d="M449.5,132.7 L451.43,132.05 453.36,131.4 455.29,130.75 457.22,130.11 459.15,129.46 461.07,128.81 463,128.17 464.92,127.53 466.84,126.89 468.77,126.27 470.69,125.65 472.62,125.03 474.54,124.43 476.47,123.84 478.4,123.25 480.33,122.68 482.27,122.13 484.21,121.58 486.15,121.06 488.09,120.55 490.04,120.05 491.99,119.58 493.95,119.12 495.91,118.68 497.88,118.27 499.85,117.87 501.83,117.51 503.82,117.16 505.81,116.84 507.81,116.55 509.81,116.28 511.83,116.04 513.85,115.83 515.88,115.66 517.91,115.51 519.96,115.39 522.02,115.31 524.08,115.27 526.16,115.26 528.24,115.28 530.33,115.32 532.43,115.38 534.53,115.46 536.62,115.53 538.72,115.61 540.8,115.68 542.89,115.73 544.96,115.75 547.02,115.75 549.07,115.71 551.1,115.63 553.12,115.5 555.11,115.31 557.08,115.05 559.03,114.73 560.95,114.32 562.84,113.84 564.69,113.26 566.49,112.57 568.22,111.78 569.89,110.86 571.48,109.81 573,108.65 574.44,107.38 575.81,106.01 577.12,104.54 578.36,102.99 579.53,101.37 580.65,99.68 581.71,97.93 582.71,96.13 583.65,94.28 584.55,92.4 585.4,90.5 586.2,88.57 586.95,86.64 587.67,84.7 588.34,82.75 588.98,80.79 589.58,78.82 590.14,76.85 590.67,74.87 591.18,72.88 591.65,70.9 592.1,68.91 592.52,66.91 592.92,64.92 593.3,62.93 593.66,60.93 594,58.94 594.33,56.95 594.64,54.96 594.94,52.97 595.22,50.98 595.49,48.99 595.74,47 595.98,45.01 596.2,43.02 596.41,41.02 596.61,39.02 596.79,37.02 596.97,35.02 597.12,33.01 597.27,31 597.4,28.98 597.52,26.96 597.63,24.93 597.73,22.9 597.81,20.86 597.89,18.82 597.95,16.76 598,14.7 L598,14.7 L596.5,16.17 594.98,17.6 593.44,19 591.87,20.36 590.28,21.68 588.67,22.96 587.03,24.2 585.38,25.4 583.7,26.56 582,27.68 580.29,28.76 578.55,29.8 576.79,30.8 575.02,31.75 573.23,32.66 571.42,33.53 569.59,34.36 567.75,35.14 565.89,35.88 564.01,36.57 562.12,37.22 560.21,37.82 558.29,38.38 556.36,38.89 554.41,39.36 552.45,39.77 550.47,40.14 548.49,40.47 546.49,40.74 544.48,40.97 542.46,41.14 540.43,41.27 538.4,41.35 536.35,41.39 534.29,41.39 532.23,41.36 530.16,41.3 528.09,41.22 526.01,41.11 523.93,41 521.85,40.87 519.77,40.74 517.68,40.62 515.6,40.49 513.52,40.38 511.44,40.28 509.36,40.2 507.29,40.14 505.23,40.11 503.17,40.12 501.12,40.16 499.07,40.25 497.04,40.38 495.01,40.57 493,40.81 490.99,41.11 489,41.48 487.04,41.91 485.09,42.41 483.18,42.98 481.29,43.62 479.44,44.33 477.64,45.12 475.87,45.98 474.16,46.92 472.5,47.93 470.89,49.03 469.34,50.21 467.86,51.46 466.43,52.79 465.07,54.19 463.78,55.65 462.55,57.17 461.38,58.76 460.29,60.4 459.26,62.1 458.31,63.84 457.43,65.64 456.62,67.47 455.88,69.35 455.21,71.27 454.59,73.23 454.04,75.21 453.54,77.23 453.1,79.27 452.7,81.34 452.35,83.43 452.05,85.54 451.78,87.67 451.55,89.8 451.35,91.95 451.19,94.11 451.05,96.27 450.93,98.43 450.84,100.59 450.76,102.75 450.7,104.9 450.64,107.04 450.6,109.17 450.56,111.28 450.52,113.37 450.48,115.45 450.43,117.5 450.38,119.52 450.31,121.51 450.23,123.48 450.14,125.4 450.02,127.29 449.87,129.14 449.7,130.94 449.5,132.7" fill="none" stroke="#1a8c8c" stroke-width="1.3" stroke-linejoin="round" stroke-linecap="round"/>
<rect x="439.5" y="9.5" width="168.8" height="142.4" fill="none" stroke="#111" stroke-width="1.4"/>
<text x="444.8" y="22.85" font-size="13.5" text-anchor="start" font-weight="bold" fill="#000" >(c)</text>
<line x1="500.4" y1="18.6" x2="515.8" y2="18.6" stroke="#111" stroke-width="1.5"/>
<line x1="500.4" y1="30.2" x2="515.8" y2="30.2" stroke="#ff1a1a" stroke-width="1.5"/>
<text x="554.5" y="21.8" font-size="8.4" text-anchor="end" font-weight="bold" fill="#000" letter-spacing="0.2">5 mV/s</text>
<text x="555.3" y="33.1" font-size="8.4" text-anchor="end" font-weight="bold" fill="#000" letter-spacing="0.2">20 mV/s</text>
<line x1="548.5" y1="128" x2="563.8" y2="128" stroke="#1a1aff" stroke-width="1.5"/>
<line x1="548.5" y1="139" x2="563.8" y2="139" stroke="#1a8c8c" stroke-width="1.5"/>
<text x="602.2" y="130.3" font-size="8.4" text-anchor="end" font-weight="bold" fill="#000" letter-spacing="0.2">50 mV/s</text>
<text x="603.2" y="141.3" font-size="8.4" text-anchor="end" font-weight="bold" fill="#000" letter-spacing="0.2">100 mV/s</text>
<text x="0" y="0" font-size="9.3" text-anchor="middle" font-weight="bold" fill="#000" transform="translate(523.6 177.2) scale(1 1.02)" >Voltage (V)</text>
<text x="0" y="0" font-size="10.1" text-anchor="middle" font-weight="bold" fill="#000" transform="translate(427.2 80.1) rotate(-90) scale(1 1.15)" >Current Density mA/cm<tspan font-size="6.7" dy="-3.6">2</tspan></text>
<line x1="44.6" y1="330.1" x2="44.6" y2="333.3" stroke="#000" stroke-width="1.1"/>
<line x1="67.1" y1="330.1" x2="67.1" y2="333.3" stroke="#000" stroke-width="1.1"/>
<line x1="89.6" y1="330.1" x2="89.6" y2="333.3" stroke="#000" stroke-width="1.1"/>
<line x1="112.1" y1="330.1" x2="112.1" y2="333.3" stroke="#000" stroke-width="1.1"/>
<line x1="134.6" y1="330.1" x2="134.6" y2="333.3" stroke="#000" stroke-width="1.1"/>
<line x1="157.1" y1="330.1" x2="157.1" y2="333.3" stroke="#000" stroke-width="1.1"/>
<line x1="179.6" y1="330.1" x2="179.6" y2="333.3" stroke="#000" stroke-width="1.1"/>
<line x1="202.1" y1="330.1" x2="202.1" y2="333.3" stroke="#000" stroke-width="1.1"/>
<line x1="55.85" y1="330.1" x2="55.85" y2="332.2" stroke="#000" stroke-width="1.1"/>
<line x1="78.35" y1="330.1" x2="78.35" y2="332.2" stroke="#000" stroke-width="1.1"/>
<line x1="100.85" y1="330.1" x2="100.85" y2="332.2" stroke="#000" stroke-width="1.1"/>
<line x1="123.35" y1="330.1" x2="123.35" y2="332.2" stroke="#000" stroke-width="1.1"/>
<line x1="145.85" y1="330.1" x2="145.85" y2="332.2" stroke="#000" stroke-width="1.1"/>
<line x1="168.35" y1="330.1" x2="168.35" y2="332.2" stroke="#000" stroke-width="1.1"/>
<line x1="190.85" y1="330.1" x2="190.85" y2="332.2" stroke="#000" stroke-width="1.1"/>
<line x1="33.35" y1="330.1" x2="33.35" y2="332.2" stroke="#000" stroke-width="1.1"/>
<text x="44.6" y="342.3" font-size="8.4" text-anchor="middle" font-weight="bold" fill="#000" >0</text>
<text x="67.1" y="342.3" font-size="8.4" text-anchor="middle" font-weight="bold" fill="#000" >10</text>
<text x="89.6" y="342.3" font-size="8.4" text-anchor="middle" font-weight="bold" fill="#000" >20</text>
<text x="112.1" y="342.3" font-size="8.4" text-anchor="middle" font-weight="bold" fill="#000" >30</text>
<text x="134.6" y="342.3" font-size="8.4" text-anchor="middle" font-weight="bold" fill="#000" >40</text>
<text x="157.1" y="342.3" font-size="8.4" text-anchor="middle" font-weight="bold" fill="#000" >50</text>
<text x="179.6" y="342.3" font-size="8.4" text-anchor="middle" font-weight="bold" fill="#000" >60</text>
<text x="202.1" y="342.3" font-size="8.4" text-anchor="middle" font-weight="bold" fill="#000" >70</text>
<line x1="30.3" y1="330.1" x2="33.5" y2="330.1" stroke="#000" stroke-width="1.1"/>
<line x1="30.3" y1="312.07" x2="33.5" y2="312.07" stroke="#000" stroke-width="1.1"/>
<line x1="30.3" y1="294.04" x2="33.5" y2="294.04" stroke="#000" stroke-width="1.1"/>
<line x1="30.3" y1="276.01" x2="33.5" y2="276.01" stroke="#000" stroke-width="1.1"/>
<line x1="30.3" y1="257.98" x2="33.5" y2="257.98" stroke="#000" stroke-width="1.1"/>
<line x1="30.3" y1="239.95" x2="33.5" y2="239.95" stroke="#000" stroke-width="1.1"/>
<line x1="30.3" y1="221.92" x2="33.5" y2="221.92" stroke="#000" stroke-width="1.1"/>
<line x1="30.3" y1="203.89" x2="33.5" y2="203.89" stroke="#000" stroke-width="1.1"/>
<line x1="30.3" y1="185.86" x2="33.5" y2="185.86" stroke="#000" stroke-width="1.1"/>
<line x1="31.4" y1="321.09" x2="33.5" y2="321.09" stroke="#000" stroke-width="1.1"/>
<line x1="31.4" y1="303.06" x2="33.5" y2="303.06" stroke="#000" stroke-width="1.1"/>
<line x1="31.4" y1="285.03" x2="33.5" y2="285.03" stroke="#000" stroke-width="1.1"/>
<line x1="31.4" y1="267" x2="33.5" y2="267" stroke="#000" stroke-width="1.1"/>
<line x1="31.4" y1="248.97" x2="33.5" y2="248.97" stroke="#000" stroke-width="1.1"/>
<line x1="31.4" y1="230.94" x2="33.5" y2="230.94" stroke="#000" stroke-width="1.1"/>
<line x1="31.4" y1="212.9" x2="33.5" y2="212.9" stroke="#000" stroke-width="1.1"/>
<line x1="31.4" y1="194.88" x2="33.5" y2="194.88" stroke="#000" stroke-width="1.1"/>
<text x="29.3" y="333.1" font-size="8.4" text-anchor="end" font-weight="bold" fill="#000" >0.0</text>
<text x="29.3" y="315.07" font-size="8.4" text-anchor="end" font-weight="bold" fill="#000" >0.2</text>
<text x="29.3" y="297.04" font-size="8.4" text-anchor="end" font-weight="bold" fill="#000" >0.4</text>
<text x="29.3" y="279.01" font-size="8.4" text-anchor="end" font-weight="bold" fill="#000" >0.6</text>
<text x="29.3" y="260.98" font-size="8.4" text-anchor="end" font-weight="bold" fill="#000" >0.8</text>
<text x="29.3" y="242.95" font-size="8.4" text-anchor="end" font-weight="bold" fill="#000" >1.0</text>
<text x="29.3" y="224.92" font-size="8.4" text-anchor="end" font-weight="bold" fill="#000" >1.2</text>
<text x="29.3" y="206.89" font-size="8.4" text-anchor="end" font-weight="bold" fill="#000" >1.4</text>
<text x="29.3" y="188.86" font-size="8.4" text-anchor="end" font-weight="bold" fill="#000" >1.6</text>
<path d="M44.6,330.2 C44.6,327.39 44,324.87 44.6,321.76 C45.4,317.61 48.35,312.35 50.25,307.72 C52.11,303.18 53.99,298.68 55.89,294.24 C57.76,289.9 59.64,285.6 61.54,281.38 C63.4,277.24 65.28,273.16 67.18,269.16 C69.04,265.25 70.92,261.4 72.83,257.63 C74.69,253.97 76.57,250.36 78.48,246.84 C80.33,243.42 82.21,240.07 84.12,236.82 C85.98,233.67 87.85,230.59 89.77,227.62 C91.62,224.75 93.5,221.95 95.42,219.27 C97.26,216.69 99.14,214.19 101.06,211.82 C102.91,209.55 104.78,207.36 106.71,205.31 C108.55,203.35 110.44,201.51 112.35,199.78 C114.2,198.12 116.12,196.66 118,195.1 L118,195.1 L118.3,200.2 L118.1,200.2 C119.5,204.14 120.9,208.08 122.3,212.02 C123.69,215.96 125.08,219.9 126.49,223.84 C127.9,227.78 129.31,231.72 130.75,235.65 C132.19,239.6 133.65,243.54 135.15,247.47 C136.66,251.42 138.18,255.36 139.76,259.29 C141.35,263.24 142.97,267.18 144.66,271.11 C146.35,275.06 148.09,279 149.9,282.93 C151.72,286.88 153.6,290.82 155.56,294.75 C157.54,298.7 159.58,302.64 161.71,306.56 C163.87,310.52 166.1,314.47 168.43,318.38 C170.78,322.34 173.32,326.26 175.77,330.2" fill="none" stroke="#000" stroke-width="1.3" stroke-linejoin="round" stroke-linecap="round" />
<path d="M44.6,330.2 L44.88,328.2 45.17,326.2 45.47,324.2 45.77,322.2 46.07,320.2 46.38,318.19 46.69,316.19 47.01,314.19 47.33,312.18 47.66,310.18 47.99,308.18 48.32,306.17 48.66,304.17 49,302.16 49.35,300.15 49.69,298.15 50.04,296.14 50.4,294.13 50.75,292.13 51.11,290.12 51.47,288.11 51.83,286.1 52.2,284.09 52.56,282.08 52.93,280.08 53.3,278.07 53.67,276.06 54.04,274.05 54.42,272.04 54.79,270.03 55.17,268.02 55.55,266.01 55.92,264 56.3,261.99 56.68,259.98 57.06,257.97 57.44,255.97 57.82,253.96 58.21,251.95 58.6,249.94 58.99,247.94 59.39,245.94 59.8,243.93 60.21,241.94 60.63,239.94 61.06,237.95 61.5,235.96 61.95,233.97 62.4,231.98 62.88,230 63.36,228.03 63.86,226.06 64.37,224.09 64.9,222.13 65.44,220.17 66,218.22 66.58,216.27 67.17,214.33 67.79,212.39 68.42,210.47 69.07,208.54 69.75,206.63 70.45,204.72 71.17,202.82 71.91,200.93 72.68,199.04 73.48,197.17 74.3,195.3 L74.3,195.3 L74.39,197.36 74.49,199.42 74.61,201.48 74.74,203.53 74.89,205.58 75.06,207.63 75.24,209.68 75.43,211.72 75.64,213.76 75.87,215.8 76.1,217.84 76.35,219.87 76.62,221.91 76.89,223.94 77.18,225.97 77.48,227.99 77.79,230.02 78.11,232.04 78.44,234.06 78.78,236.08 79.13,238.1 79.5,240.12 79.87,242.13 80.24,244.15 80.63,246.16 81.03,248.17 81.43,250.18 81.84,252.19 82.26,254.2 82.68,256.21 83.11,258.21 83.55,260.22 83.99,262.22 84.44,264.22 84.89,266.22 85.35,268.23 85.81,270.23 86.27,272.23 86.74,274.23 87.21,276.22 87.68,278.22 88.16,280.22 88.63,282.22 89.11,284.22 89.59,286.21 90.07,288.21 90.55,290.21 91.03,292.2 91.51,294.2 91.99,296.2 92.47,298.19 92.95,300.19 93.43,302.19 93.9,304.18 94.37,306.18 94.84,308.18 95.3,310.18 95.77,312.18 96.22,314.18 96.68,316.18 97.13,318.18 97.57,320.18 98.01,322.18 98.44,324.18 98.87,326.19 99.29,328.19 99.7,330.2" fill="none" stroke="#1f8f1f" stroke-width="1.3" stroke-linejoin="round" stroke-linecap="round"/>
<path d="M44.6,330.2 L44.63,328.16 44.68,326.12 44.74,324.08 44.82,322.04 44.91,320.01 45.02,317.97 45.14,315.94 45.27,313.91 45.42,311.89 45.58,309.86 45.75,307.84 45.94,305.81 46.14,303.79 46.34,301.77 46.56,299.76 46.79,297.74 47.03,295.72 47.27,293.71 47.53,291.7 47.79,289.68 48.07,287.67 48.35,285.66 48.64,283.65 48.93,281.65 49.23,279.64 49.54,277.63 49.85,275.63 50.17,273.62 50.5,271.62 50.82,269.61 51.16,267.61 51.49,265.6 51.83,263.6 52.17,261.6 52.52,259.6 52.86,257.59 53.21,255.59 53.56,253.59 53.91,251.59 54.26,249.59 54.61,247.58 54.96,245.58 55.3,243.58 55.65,241.58 56,239.57 56.34,237.57 56.68,235.57 57.02,233.56 57.35,231.56 57.68,229.55 58.01,227.54 58.33,225.54 58.64,223.53 58.95,221.52 59.26,219.51 59.56,217.5 59.85,215.49 60.13,213.47 60.41,211.46 60.68,209.44 60.94,207.43 61.19,205.41 61.43,203.39 61.66,201.37 61.89,199.35 62.1,197.33 62.3,195.3 L62.3,195.3 L62.4,197.36 62.5,199.42 62.61,201.47 62.73,203.53 62.85,205.59 62.98,207.64 63.11,209.7 63.25,211.75 63.4,213.81 63.55,215.86 63.7,217.91 63.86,219.97 64.03,222.02 64.2,224.07 64.38,226.12 64.56,228.17 64.75,230.22 64.94,232.27 65.14,234.32 65.34,236.37 65.55,238.41 65.76,240.46 65.97,242.51 66.19,244.55 66.42,246.6 66.65,248.64 66.88,250.69 67.11,252.73 67.35,254.78 67.59,256.82 67.84,258.87 68.09,260.91 68.35,262.95 68.6,264.99 68.86,267.04 69.13,269.08 69.39,271.12 69.66,273.16 69.93,275.2 70.21,277.24 70.48,279.28 70.76,281.32 71.05,283.36 71.33,285.4 71.62,287.44 71.91,289.48 72.2,291.51 72.49,293.55 72.79,295.59 73.08,297.63 73.38,299.66 73.68,301.7 73.98,303.74 74.29,305.78 74.59,307.81 74.9,309.85 75.2,311.88 75.51,313.92 75.82,315.96 76.13,317.99 76.44,320.03 76.75,322.06 77.06,324.1 77.38,326.13 77.69,328.17 78,330.2" fill="none" stroke="#2b2bb8" stroke-width="1.3" stroke-linejoin="round" stroke-linecap="round"/>
<path d="M44.6,330.2 L44.65,328.15 44.71,326.09 44.77,324.04 44.85,321.99 44.93,319.94 45.02,317.88 45.12,315.83 45.22,313.78 45.33,311.74 45.45,309.69 45.57,307.64 45.7,305.59 45.84,303.54 45.98,301.5 46.13,299.45 46.28,297.41 46.44,295.36 46.61,293.32 46.77,291.27 46.95,289.23 47.12,287.19 47.3,285.14 47.49,283.1 47.68,281.06 47.87,279.02 48.07,276.98 48.26,274.93 48.46,272.89 48.67,270.85 48.87,268.81 49.08,266.77 49.29,264.73 49.5,262.69 49.72,260.65 49.93,258.61 50.15,256.57 50.36,254.53 50.58,252.49 50.8,250.45 51.01,248.41 51.23,246.37 51.45,244.33 51.66,242.29 51.88,240.25 52.09,238.21 52.31,236.17 52.52,234.13 52.73,232.09 52.94,230.04 53.15,228 53.35,225.96 53.55,223.92 53.75,221.88 53.95,219.84 54.14,217.79 54.33,215.75 54.52,213.71 54.7,211.66 54.88,209.62 55.05,207.58 55.22,205.53 55.39,203.49 55.55,201.44 55.71,199.39 55.86,197.35 56,195.3 L56,195.3 L56.09,197.35 56.17,199.4 56.26,201.45 56.36,203.5 56.45,205.55 56.55,207.6 56.66,209.65 56.76,211.7 56.87,213.75 56.98,215.79 57.09,217.84 57.21,219.89 57.33,221.94 57.45,223.98 57.57,226.03 57.7,228.08 57.83,230.13 57.96,232.17 58.1,234.22 58.23,236.26 58.37,238.31 58.51,240.36 58.66,242.4 58.81,244.45 58.95,246.49 59.11,248.54 59.26,250.58 59.42,252.63 59.57,254.67 59.73,256.71 59.9,258.76 60.06,260.8 60.23,262.85 60.4,264.89 60.57,266.93 60.74,268.98 60.92,271.02 61.1,273.06 61.28,275.1 61.46,277.15 61.64,279.19 61.83,281.23 62.02,283.27 62.21,285.31 62.4,287.36 62.59,289.4 62.79,291.44 62.98,293.48 63.18,295.52 63.38,297.56 63.58,299.6 63.79,301.64 63.99,303.68 64.2,305.72 64.41,307.76 64.62,309.81 64.83,311.85 65.04,313.88 65.26,315.92 65.47,317.96 65.69,320 65.91,322.04 66.13,324.08 66.35,326.12 66.58,328.16 66.8,330.2" fill="none" stroke="#f0248c" stroke-width="1.3" stroke-linejoin="round" stroke-linecap="round"/>
<rect x="33.5" y="185.85" width="168.6" height="144.25" fill="none" stroke="#111" stroke-width="1.4"/>
<text x="35.5" y="202.95" font-size="13.5" text-anchor="start" font-weight="bold" fill="#000" >(d)</text>
<line x1="138.6" y1="196" x2="152.9" y2="196" stroke="#000" stroke-width="1.5"/>
<line x1="138.6" y1="208.3" x2="152.9" y2="208.3" stroke="#1f8f1f" stroke-width="1.5"/>
<line x1="138.6" y1="220.8" x2="152.9" y2="220.8" stroke="#2b2bb8" stroke-width="1.5"/>
<line x1="138.6" y1="233.2" x2="152.9" y2="233.2" stroke="#f0248c" stroke-width="1.5"/>
<text x="157.6" y="198.5" font-size="8.4" text-anchor="start" font-weight="bold" fill="#000" >1 mA/cm<tspan font-size="6" dy="-3.2">2</tspan></text>
<text x="157.6" y="210.9" font-size="8.4" text-anchor="start" font-weight="bold" fill="#000" >2 mA/cm<tspan font-size="6" dy="-3.2">2</tspan></text>
<text x="157.6" y="223.2" font-size="8.4" text-anchor="start" font-weight="bold" fill="#000" >3 mA/cm<tspan font-size="6" dy="-3.2">2</tspan></text>
<text x="157.6" y="235.5" font-size="8.4" text-anchor="start" font-weight="bold" fill="#000" >4 mA/cm<tspan font-size="6" dy="-3.2">2</tspan></text>
<text x="0" y="0" font-size="9.3" text-anchor="middle" font-weight="bold" fill="#000" transform="translate(116.2 355.5) scale(1 1.02)" >Time (s)</text>
<text x="0" y="0" font-size="10.2" text-anchor="middle" font-weight="bold" fill="#000" transform="translate(9.6 261.5) rotate(-90) scale(1 1.15)" >Voltage (V)</text>
<line x1="253.9" y1="331.1" x2="253.9" y2="334.3" stroke="#000" stroke-width="1.1"/>
<line x1="281.64" y1="331.1" x2="281.64" y2="334.3" stroke="#000" stroke-width="1.1"/>
<line x1="309.38" y1="331.1" x2="309.38" y2="334.3" stroke="#000" stroke-width="1.1"/>
<line x1="337.12" y1="331.1" x2="337.12" y2="334.3" stroke="#000" stroke-width="1.1"/>
<line x1="364.86" y1="331.1" x2="364.86" y2="334.3" stroke="#000" stroke-width="1.1"/>
<line x1="392.6" y1="331.1" x2="392.6" y2="334.3" stroke="#000" stroke-width="1.1"/>
<line x1="267.77" y1="331.1" x2="267.77" y2="333.2" stroke="#000" stroke-width="1.1"/>
<line x1="295.51" y1="331.1" x2="295.51" y2="333.2" stroke="#000" stroke-width="1.1"/>
<line x1="323.25" y1="331.1" x2="323.25" y2="333.2" stroke="#000" stroke-width="1.1"/>
<line x1="350.99" y1="331.1" x2="350.99" y2="333.2" stroke="#000" stroke-width="1.1"/>
<line x1="378.73" y1="331.1" x2="378.73" y2="333.2" stroke="#000" stroke-width="1.1"/>
<line x1="240.03" y1="331.1" x2="240.03" y2="333.2" stroke="#000" stroke-width="1.1"/>
<text x="253.9" y="342.5" font-size="8.4" text-anchor="middle" font-weight="bold" fill="#000" >0</text>
<text x="281.64" y="342.5" font-size="8.4" text-anchor="middle" font-weight="bold" fill="#000" >20</text>
<text x="309.38" y="342.5" font-size="8.4" text-anchor="middle" font-weight="bold" fill="#000" >40</text>
<text x="337.12" y="342.5" font-size="8.4" text-anchor="middle" font-weight="bold" fill="#000" >60</text>
<text x="364.86" y="342.5" font-size="8.4" text-anchor="middle" font-weight="bold" fill="#000" >80</text>
<text x="392.6" y="342.5" font-size="8.4" text-anchor="middle" font-weight="bold" fill="#000" >100</text>
<line x1="236.8" y1="331.1" x2="240" y2="331.1" stroke="#000" stroke-width="1.1"/>
<line x1="236.8" y1="315.11" x2="240" y2="315.11" stroke="#000" stroke-width="1.1"/>
<line x1="236.8" y1="299.12" x2="240" y2="299.12" stroke="#000" stroke-width="1.1"/>
<line x1="236.8" y1="283.14" x2="240" y2="283.14" stroke="#000" stroke-width="1.1"/>
<line x1="236.8" y1="267.15" x2="240" y2="267.15" stroke="#000" stroke-width="1.1"/>
<line x1="236.8" y1="251.16" x2="240" y2="251.16" stroke="#000" stroke-width="1.1"/>
<line x1="236.8" y1="235.17" x2="240" y2="235.17" stroke="#000" stroke-width="1.1"/>
<line x1="236.8" y1="219.18" x2="240" y2="219.18" stroke="#000" stroke-width="1.1"/>
<line x1="236.8" y1="203.2" x2="240" y2="203.2" stroke="#000" stroke-width="1.1"/>
<line x1="236.8" y1="187.21" x2="240" y2="187.21" stroke="#000" stroke-width="1.1"/>
<line x1="237.9" y1="323.11" x2="240" y2="323.11" stroke="#000" stroke-width="1.1"/>
<line x1="237.9" y1="307.12" x2="240" y2="307.12" stroke="#000" stroke-width="1.1"/>
<line x1="237.9" y1="291.13" x2="240" y2="291.13" stroke="#000" stroke-width="1.1"/>
<line x1="237.9" y1="275.14" x2="240" y2="275.14" stroke="#000" stroke-width="1.1"/>
<line x1="237.9" y1="259.15" x2="240" y2="259.15" stroke="#000" stroke-width="1.1"/>
<line x1="237.9" y1="243.17" x2="240" y2="243.17" stroke="#000" stroke-width="1.1"/>
<line x1="237.9" y1="227.18" x2="240" y2="227.18" stroke="#000" stroke-width="1.1"/>
<line x1="237.9" y1="211.19" x2="240" y2="211.19" stroke="#000" stroke-width="1.1"/>
<line x1="237.9" y1="195.2" x2="240" y2="195.2" stroke="#000" stroke-width="1.1"/>
<text x="235.6" y="334.1" font-size="8.4" text-anchor="end" font-weight="bold" fill="#000" >0</text>
<text x="235.6" y="318.11" font-size="8.4" text-anchor="end" font-weight="bold" fill="#000" >4</text>
<text x="235.6" y="302.12" font-size="8.4" text-anchor="end" font-weight="bold" fill="#000" >8</text>
<text x="235.6" y="286.14" font-size="8.4" text-anchor="end" font-weight="bold" fill="#000" >12</text>
<text x="235.6" y="270.15" font-size="8.4" text-anchor="end" font-weight="bold" fill="#000" >16</text>
<text x="235.6" y="254.16" font-size="8.4" text-anchor="end" font-weight="bold" fill="#000" >20</text>
<text x="235.6" y="238.17" font-size="8.4" text-anchor="end" font-weight="bold" fill="#000" >24</text>
<text x="235.6" y="222.18" font-size="8.4" text-anchor="end" font-weight="bold" fill="#000" >28</text>
<text x="235.6" y="206.2" font-size="8.4" text-anchor="end" font-weight="bold" fill="#000" >32</text>
<text x="235.6" y="190.21" font-size="8.4" text-anchor="end" font-weight="bold" fill="#000" >36</text>
<polyline points="261.1,200.9 281.5,238.9 323.4,250.9 392.7,262.8" fill="none" stroke="#ff00ff" stroke-width="1.9"/>
<circle cx="261.1" cy="200.9" r="1.85" fill="#fff4ff" stroke="#ff00ff" stroke-width="1.3"/>
<circle cx="281.5" cy="238.9" r="1.85" fill="#fff4ff" stroke="#ff00ff" stroke-width="1.3"/>
<circle cx="323.4" cy="250.9" r="1.85" fill="#fff4ff" stroke="#ff00ff" stroke-width="1.3"/>
<circle cx="392.7" cy="262.8" r="1.85" fill="#fff4ff" stroke="#ff00ff" stroke-width="1.3"/>
<rect x="240" y="187.4" width="166.8" height="143.7" fill="none" stroke="#111" stroke-width="1.4"/>
<text x="242.1" y="203.1" font-size="13.5" text-anchor="start" font-weight="bold" fill="#000" >(e)</text>
<text x="0" y="0" font-size="9.65" text-anchor="middle" font-weight="bold" fill="#000" transform="translate(319.2 356.5) scale(1 1.02)" >Scan Rate (mV/s)</text>
<text x="0" y="0" font-size="10.3" text-anchor="middle" font-weight="bold" fill="#000" transform="translate(218.8 259.6) rotate(-90) scale(1 1.15)" >Areal Capacitance (mF/cm<tspan font-size="6.8" dy="-3.7">2</tspan><tspan dy="3.7">)</tspan></text>
<line x1="454.7" y1="332.6" x2="454.7" y2="335.8" stroke="#000" stroke-width="1.1"/>
<line x1="483.1" y1="332.6" x2="483.1" y2="335.8" stroke="#000" stroke-width="1.1"/>
<line x1="511.5" y1="332.6" x2="511.5" y2="335.8" stroke="#000" stroke-width="1.1"/>
<line x1="539.9" y1="332.6" x2="539.9" y2="335.8" stroke="#000" stroke-width="1.1"/>
<line x1="568.3" y1="332.6" x2="568.3" y2="335.8" stroke="#000" stroke-width="1.1"/>
<line x1="596.7" y1="332.6" x2="596.7" y2="335.8" stroke="#000" stroke-width="1.1"/>
<line x1="468.9" y1="332.6" x2="468.9" y2="334.7" stroke="#000" stroke-width="1.1"/>
<line x1="497.3" y1="332.6" x2="497.3" y2="334.7" stroke="#000" stroke-width="1.1"/>
<line x1="525.7" y1="332.6" x2="525.7" y2="334.7" stroke="#000" stroke-width="1.1"/>
<line x1="554.1" y1="332.6" x2="554.1" y2="334.7" stroke="#000" stroke-width="1.1"/>
<line x1="582.5" y1="332.6" x2="582.5" y2="334.7" stroke="#000" stroke-width="1.1"/>
<line x1="610.9" y1="332.6" x2="610.9" y2="334.7" stroke="#000" stroke-width="1.1"/>
<line x1="440.5" y1="332.6" x2="440.5" y2="334.7" stroke="#000" stroke-width="1.1"/>
<text x="454.7" y="344" font-size="8.4" text-anchor="middle" font-weight="bold" fill="#000" >0</text>
<text x="483.1" y="344" font-size="8.4" text-anchor="middle" font-weight="bold" fill="#000" >2000</text>
<text x="511.5" y="344" font-size="8.4" text-anchor="middle" font-weight="bold" fill="#000" >4000</text>
<text x="539.9" y="344" font-size="8.4" text-anchor="middle" font-weight="bold" fill="#000" >6000</text>
<text x="568.3" y="344" font-size="8.4" text-anchor="middle" font-weight="bold" fill="#000" >8000</text>
<text x="596.7" y="344" font-size="8.4" text-anchor="middle" font-weight="bold" fill="#000" >10000</text>
<line x1="437.9" y1="332.37" x2="441.1" y2="332.37" stroke="#000" stroke-width="1.1"/>
<line x1="437.9" y1="310.2" x2="441.1" y2="310.2" stroke="#000" stroke-width="1.1"/>
<line x1="437.9" y1="288.03" x2="441.1" y2="288.03" stroke="#000" stroke-width="1.1"/>
<line x1="437.9" y1="265.87" x2="441.1" y2="265.87" stroke="#000" stroke-width="1.1"/>
<line x1="437.9" y1="243.7" x2="441.1" y2="243.7" stroke="#000" stroke-width="1.1"/>
<line x1="437.9" y1="221.54" x2="441.1" y2="221.54" stroke="#000" stroke-width="1.1"/>
<line x1="437.9" y1="199.37" x2="441.1" y2="199.37" stroke="#000" stroke-width="1.1"/>
<line x1="439" y1="321.28" x2="441.1" y2="321.28" stroke="#000" stroke-width="1.1"/>
<line x1="439" y1="299.12" x2="441.1" y2="299.12" stroke="#000" stroke-width="1.1"/>
<line x1="439" y1="276.95" x2="441.1" y2="276.95" stroke="#000" stroke-width="1.1"/>
<line x1="439" y1="254.78" x2="441.1" y2="254.78" stroke="#000" stroke-width="1.1"/>
<line x1="439" y1="232.62" x2="441.1" y2="232.62" stroke="#000" stroke-width="1.1"/>
<line x1="439" y1="210.45" x2="441.1" y2="210.45" stroke="#000" stroke-width="1.1"/>
<text x="436.2" y="335.57" font-size="8.4" text-anchor="end" font-weight="bold" fill="#000" >-20</text>
<text x="436.2" y="313.4" font-size="8.4" text-anchor="end" font-weight="bold" fill="#000" >0</text>
<text x="436.2" y="291.23" font-size="8.4" text-anchor="end" font-weight="bold" fill="#000" >20</text>
<text x="436.2" y="269.07" font-size="8.4" text-anchor="end" font-weight="bold" fill="#000" >40</text>
<text x="436.2" y="246.9" font-size="8.4" text-anchor="end" font-weight="bold" fill="#000" >60</text>
<text x="436.2" y="224.74" font-size="8.4" text-anchor="end" font-weight="bold" fill="#000" >80</text>
<text x="436.2" y="202.57" font-size="8.4" text-anchor="end" font-weight="bold" fill="#000" >100</text>
<path d="M471.6,303 L473.53,302.4 475.5,301.87 477.5,301.41 479.52,301.01 481.56,300.66 483.62,300.34 485.68,300.05 487.74,299.78 489.81,299.53 491.86,299.27 493.9,299.01 495.92,298.74 497.93,298.46 499.93,298.17 501.91,297.88 503.89,297.58 505.86,297.29 507.83,297 509.8,296.71 511.76,296.44 513.73,296.17 515.71,295.92 517.69,295.68 519.68,295.46 521.69,295.26 523.71,295.08 525.74,294.93 527.79,294.8 529.86,294.71 531.96,294.64 534.08,294.62 536.22,294.63 538.39,294.66 540.57,294.71 542.75,294.76 544.92,294.8 547.08,294.8 549.21,294.75 551.3,294.65 553.35,294.47 555.35,294.2 557.28,293.83 559.14,293.33 560.92,292.7 562.61,291.93 564.2,291 565.7,289.93 567.11,288.73 568.44,287.4 569.68,285.96 570.84,284.41 571.92,282.76 572.93,281.02 573.86,279.2 574.72,277.31 575.51,275.35 576.24,273.33 576.91,271.27 577.51,269.17 578.06,267.03 578.55,264.88 578.99,262.71 579.38,260.54 579.72,258.37 580.02,256.21 580.27,254.07 580.49,251.96 580.67,249.89 580.81,247.87 580.92,245.9 581.01,243.99 581.07,242.16 581.1,240.4 L581.1,240.4 L579.63,242.03 578.12,243.53 576.55,244.92 574.94,246.19 573.28,247.35 571.58,248.42 569.84,249.38 568.06,250.25 566.24,251.03 564.39,251.72 562.5,252.34 560.59,252.88 558.64,253.35 556.67,253.76 554.68,254.11 552.66,254.4 550.62,254.64 548.56,254.83 546.49,254.99 544.4,255.11 542.3,255.2 540.19,255.26 538.07,255.3 535.95,255.32 533.81,255.34 531.68,255.34 529.55,255.35 527.42,255.35 525.29,255.37 523.17,255.39 521.05,255.44 518.95,255.5 516.85,255.59 514.77,255.72 512.71,255.88 510.66,256.08 508.64,256.33 506.63,256.63 504.65,256.99 502.7,257.41 500.77,257.89 498.87,258.44 497.01,259.07 495.18,259.78 493.38,260.57 491.63,261.45 489.92,262.41 488.27,263.45 486.67,264.58 485.13,265.79 483.65,267.08 482.25,268.46 480.93,269.91 479.69,271.45 478.53,273.06 477.47,274.75 476.5,276.52 475.64,278.37 474.88,280.29 474.21,282.27 473.64,284.3 473.15,286.37 472.75,288.47 472.41,290.59 472.14,292.71 471.94,294.82 471.78,296.92 471.68,298.99 471.62,301.02 471.6,303" fill="none" stroke="#ff1a1a" stroke-width="1.1" stroke-linejoin="round" stroke-linecap="round"/>
<path d="M471.6,299.7 L473.49,298.86 475.39,298.08 477.31,297.35 479.23,296.67 481.17,296.04 483.12,295.45 485.07,294.91 487.04,294.4 489.01,293.94 490.99,293.52 492.98,293.13 494.98,292.78 496.99,292.45 499,292.16 501.01,291.89 503.04,291.65 505.07,291.43 507.1,291.24 509.13,291.06 511.17,290.9 513.22,290.75 515.26,290.62 517.31,290.5 519.36,290.39 521.41,290.28 523.47,290.18 525.52,290.08 527.57,289.98 529.62,289.88 531.68,289.78 533.72,289.67 535.77,289.56 537.82,289.43 539.86,289.29 541.9,289.14 543.93,288.97 545.97,288.79 547.99,288.58 550.01,288.35 552.03,288.1 554.04,287.82 556.04,287.52 558.03,287.18 560.02,286.81 562,286.41 563.95,285.95 565.86,285.43 567.72,284.82 569.51,284.12 571.2,283.3 572.8,282.35 574.28,281.26 575.62,280 576.81,278.57 577.84,276.95 578.69,275.12 579.36,273.09 579.87,270.91 580.25,268.63 580.52,266.28 580.7,263.91 580.82,261.57 580.9,259.31 580.96,257.16 581.04,255.18 581.14,253.41 581.3,251.9 L581.3,251.9 L579.46,252.95 577.6,253.92 575.71,254.8 573.81,255.59 571.88,256.3 569.93,256.94 567.97,257.51 565.99,258.01 563.99,258.45 561.98,258.83 559.95,259.15 557.91,259.42 555.86,259.64 553.8,259.83 551.72,259.97 549.64,260.08 547.56,260.15 545.46,260.2 543.36,260.23 541.26,260.24 539.16,260.23 537.05,260.22 534.94,260.19 532.83,260.17 530.73,260.14 528.62,260.13 526.52,260.12 524.43,260.12 522.34,260.14 520.25,260.19 518.18,260.26 516.11,260.36 514.06,260.49 512.01,260.67 509.98,260.88 507.96,261.14 505.96,261.45 503.97,261.82 502,262.24 500.05,262.72 498.11,263.28 496.2,263.9 494.31,264.59 492.44,265.37 490.61,266.22 488.81,267.15 487.07,268.16 485.38,269.25 483.76,270.42 482.21,271.68 480.73,273.01 479.35,274.44 478.06,275.95 476.87,277.54 475.79,279.23 474.83,281 473.99,282.86 473.29,284.81 472.71,286.83 472.25,288.91 471.91,291.03 471.68,293.19 471.55,295.36 471.53,297.54 471.6,299.7" fill="none" stroke="#2a2aff" stroke-width="1.1" stroke-linejoin="round" stroke-linecap="round"/>
<rect x="464.2" y="237.6" width="124.2" height="71.4" fill="none" stroke="#444" stroke-width="1.1"/>
<line x1="471.5" y1="309" x2="471.5" y2="310.8" stroke="#444" stroke-width="0.8"/>
<line x1="486.1" y1="309" x2="486.1" y2="310.8" stroke="#444" stroke-width="0.8"/>
<line x1="500.7" y1="309" x2="500.7" y2="310.8" stroke="#444" stroke-width="0.8"/>
<line x1="515.3" y1="309" x2="515.3" y2="310.8" stroke="#444" stroke-width="0.8"/>
<line x1="529.9" y1="309" x2="529.9" y2="310.8" stroke="#444" stroke-width="0.8"/>
<line x1="544.5" y1="309" x2="544.5" y2="310.8" stroke="#444" stroke-width="0.8"/>
<line x1="559.1" y1="309" x2="559.1" y2="310.8" stroke="#444" stroke-width="0.8"/>
<line x1="573.7" y1="309" x2="573.7" y2="310.8" stroke="#444" stroke-width="0.8"/>
<line x1="588.3" y1="309" x2="588.3" y2="310.8" stroke="#444" stroke-width="0.8"/>
<line x1="478.8" y1="309" x2="478.8" y2="310" stroke="#444" stroke-width="0.8"/>
<line x1="493.4" y1="309" x2="493.4" y2="310" stroke="#444" stroke-width="0.8"/>
<line x1="508" y1="309" x2="508" y2="310" stroke="#444" stroke-width="0.8"/>
<line x1="522.6" y1="309" x2="522.6" y2="310" stroke="#444" stroke-width="0.8"/>
<line x1="537.2" y1="309" x2="537.2" y2="310" stroke="#444" stroke-width="0.8"/>
<line x1="551.8" y1="309" x2="551.8" y2="310" stroke="#444" stroke-width="0.8"/>
<line x1="566.4" y1="309" x2="566.4" y2="310" stroke="#444" stroke-width="0.8"/>
<line x1="581" y1="309" x2="581" y2="310" stroke="#444" stroke-width="0.8"/>
<text x="471.5" y="317.5" font-size="6.2" text-anchor="middle" font-weight="bold" fill="#222" >0.0</text>
<text x="486.1" y="317.5" font-size="6.2" text-anchor="middle" font-weight="bold" fill="#222" >0.2</text>
<text x="500.7" y="317.5" font-size="6.2" text-anchor="middle" font-weight="bold" fill="#222" >0.4</text>
<text x="515.3" y="317.5" font-size="6.2" text-anchor="middle" font-weight="bold" fill="#222" >0.6</text>
<text x="529.9" y="317.5" font-size="6.2" text-anchor="middle" font-weight="bold" fill="#222" >0.8</text>
<text x="544.5" y="317.5" font-size="6.2" text-anchor="middle" font-weight="bold" fill="#222" >1.0</text>
<text x="559.1" y="317.5" font-size="6.2" text-anchor="middle" font-weight="bold" fill="#222" >1.2</text>
<text x="573.7" y="317.5" font-size="6.2" text-anchor="middle" font-weight="bold" fill="#222" >1.4</text>
<text x="588.3" y="317.5" font-size="6.2" text-anchor="middle" font-weight="bold" fill="#222" >1.6</text>
<line x1="462.4" y1="237.6" x2="464.2" y2="237.6" stroke="#444" stroke-width="0.8"/>
<line x1="462.4" y1="250.5" x2="464.2" y2="250.5" stroke="#444" stroke-width="0.8"/>
<line x1="462.4" y1="263.4" x2="464.2" y2="263.4" stroke="#444" stroke-width="0.8"/>
<line x1="462.4" y1="276.3" x2="464.2" y2="276.3" stroke="#444" stroke-width="0.8"/>
<line x1="462.4" y1="289.2" x2="464.2" y2="289.2" stroke="#444" stroke-width="0.8"/>
<line x1="462.4" y1="302.1" x2="464.2" y2="302.1" stroke="#444" stroke-width="0.8"/>
<line x1="463.2" y1="244.05" x2="464.2" y2="244.05" stroke="#444" stroke-width="0.8"/>
<line x1="463.2" y1="256.95" x2="464.2" y2="256.95" stroke="#444" stroke-width="0.8"/>
<line x1="463.2" y1="269.85" x2="464.2" y2="269.85" stroke="#444" stroke-width="0.8"/>
<line x1="463.2" y1="282.75" x2="464.2" y2="282.75" stroke="#444" stroke-width="0.8"/>
<line x1="463.2" y1="295.65" x2="464.2" y2="295.65" stroke="#444" stroke-width="0.8"/>
<line x1="463.2" y1="308.55" x2="464.2" y2="308.55" stroke="#444" stroke-width="0.8"/>
<text x="461.6" y="239.6" font-size="6.0" text-anchor="end" font-weight="bold" fill="#222" >3</text>
<text x="461.6" y="252.5" font-size="6.0" text-anchor="end" font-weight="bold" fill="#222" >2</text>
<text x="461.6" y="265.4" font-size="6.0" text-anchor="end" font-weight="bold" fill="#222" >1</text>
<text x="461.6" y="278.3" font-size="6.0" text-anchor="end" font-weight="bold" fill="#222" >0</text>
<text x="461.6" y="291.2" font-size="6.0" text-anchor="end" font-weight="bold" fill="#222" >-1</text>
<text x="461.6" y="304.1" font-size="6.0" text-anchor="end" font-weight="bold" fill="#222" >-2</text>
<line x1="468.1" y1="244.6" x2="476.4" y2="244.6" stroke="#ff1a1a" stroke-width="1.4"/>
<line x1="468.1" y1="252.3" x2="476.4" y2="252.3" stroke="#2a2aff" stroke-width="1.4"/>
<text x="477.8" y="246.6" font-size="6.5" text-anchor="start" font-weight="bold" fill="#111" >Cycle 1</text>
<text x="477.8" y="254.3" font-size="6.5" text-anchor="start" font-weight="bold" fill="#111" >Cycle 10000</text>
<text x="523.2" y="325.2" font-size="7.2" text-anchor="middle" font-weight="bold" fill="#111" >Voltage (V)</text>
<text x="450.9" y="271" font-size="7.5" text-anchor="middle" font-weight="bold" fill="#111" transform="rotate(-90 450.9 271)" >Current Density (mA/cm<tspan font-size="5.2" dy="-2.8">2</tspan><tspan dy="2.8">)</tspan></text>
<polyline points="454.6,199.1 461.9,200.8 469.2,198.1 476.2,200.3 483,202.2 490.3,205 497.6,207.6 504.9,212 511.8,216.8 518.8,219.7 525.8,220.5 532.8,221.3 540.1,222 547,222.4 553.8,223 561.3,225.6 568.1,227.8 575.1,227.4 582.4,230 589.7,231.2 596.6,232.2" fill="none" stroke="#2a3a2a" stroke-width="1.1" stroke-dasharray="2,1.5"/>
<circle cx="454.6" cy="199.1" r="2.35" fill="#f516f5"/>
<circle cx="453.8" cy="198.29999999999998" r="0.7" fill="#ffd0ff"/>
<circle cx="461.9" cy="200.8" r="2.35" fill="#f516f5"/>
<circle cx="461.09999999999997" cy="200.0" r="0.7" fill="#ffd0ff"/>
<circle cx="469.2" cy="198.1" r="2.35" fill="#f516f5"/>
<circle cx="468.4" cy="197.29999999999998" r="0.7" fill="#ffd0ff"/>
<circle cx="476.2" cy="200.3" r="2.35" fill="#f516f5"/>
<circle cx="475.4" cy="199.5" r="0.7" fill="#ffd0ff"/>
<circle cx="483" cy="202.2" r="2.35" fill="#f516f5"/>
<circle cx="482.2" cy="201.39999999999998" r="0.7" fill="#ffd0ff"/>
<circle cx="490.3" cy="205" r="2.35" fill="#f516f5"/>
<circle cx="489.5" cy="204.2" r="0.7" fill="#ffd0ff"/>
<circle cx="497.6" cy="207.6" r="2.35" fill="#f516f5"/>
<circle cx="496.8" cy="206.79999999999998" r="0.7" fill="#ffd0ff"/>
<circle cx="504.9" cy="212" r="2.35" fill="#f516f5"/>
<circle cx="504.09999999999997" cy="211.2" r="0.7" fill="#ffd0ff"/>
<circle cx="511.8" cy="216.8" r="2.35" fill="#f516f5"/>
<circle cx="511.0" cy="216.0" r="0.7" fill="#ffd0ff"/>
<circle cx="518.8" cy="219.7" r="2.35" fill="#f516f5"/>
<circle cx="518.0" cy="218.89999999999998" r="0.7" fill="#ffd0ff"/>
<circle cx="525.8" cy="220.5" r="2.35" fill="#f516f5"/>
<circle cx="525.0" cy="219.7" r="0.7" fill="#ffd0ff"/>
<circle cx="532.8" cy="221.3" r="2.35" fill="#f516f5"/>
<circle cx="532.0" cy="220.5" r="0.7" fill="#ffd0ff"/>
<circle cx="540.1" cy="222" r="2.35" fill="#f516f5"/>
<circle cx="539.3000000000001" cy="221.2" r="0.7" fill="#ffd0ff"/>
<circle cx="547" cy="222.4" r="2.35" fill="#f516f5"/>
<circle cx="546.2" cy="221.6" r="0.7" fill="#ffd0ff"/>
<circle cx="553.8" cy="223" r="2.35" fill="#f516f5"/>
<circle cx="553.0" cy="222.2" r="0.7" fill="#ffd0ff"/>
<circle cx="561.3" cy="225.6" r="2.35" fill="#f516f5"/>
<circle cx="560.5" cy="224.79999999999998" r="0.7" fill="#ffd0ff"/>
<circle cx="568.1" cy="227.8" r="2.35" fill="#f516f5"/>
<circle cx="567.3000000000001" cy="227.0" r="0.7" fill="#ffd0ff"/>
<circle cx="575.1" cy="227.4" r="2.35" fill="#f516f5"/>
<circle cx="574.3000000000001" cy="226.6" r="0.7" fill="#ffd0ff"/>
<circle cx="582.4" cy="230" r="2.35" fill="#f516f5"/>
<circle cx="581.6" cy="229.2" r="0.7" fill="#ffd0ff"/>
<circle cx="589.7" cy="231.2" r="2.35" fill="#f516f5"/>
<circle cx="588.9000000000001" cy="230.39999999999998" r="0.7" fill="#ffd0ff"/>
<circle cx="596.6" cy="232.2" r="2.35" fill="#f516f5"/>
<circle cx="595.8000000000001" cy="231.39999999999998" r="0.7" fill="#ffd0ff"/>
<line x1="472.7" y1="194.6" x2="488" y2="194.6" stroke="#333" stroke-width="1.3"/>
<circle cx="480.2" cy="194.6" r="2.35" fill="#f516f5"/>
<circle cx="479.4" cy="193.8" r="0.7" fill="#ffd0ff"/>
<text x="489.6" y="197" font-size="9.3" text-anchor="start" font-weight="bold" fill="#000" >70.1% retention @ 100mV/s</text>
<rect x="441.1" y="188.3" width="169.8" height="144.3" fill="none" stroke="#111" stroke-width="1.4"/>
<text x="444.9" y="213.45" font-size="13.5" text-anchor="start" font-weight="bold" fill="#000" >(f)</text>
<text x="0" y="0" font-size="9.3" text-anchor="middle" font-weight="bold" fill="#000" transform="translate(522.7 357) scale(1 1.02)" >Cycle Number</text>
<text x="0" y="0" font-size="10.05" text-anchor="middle" font-weight="bold" fill="#000" transform="translate(420.7 265.5) rotate(-90) scale(1 1.15)" >Capacitance Retention (%)</text>
</svg></body></html>
